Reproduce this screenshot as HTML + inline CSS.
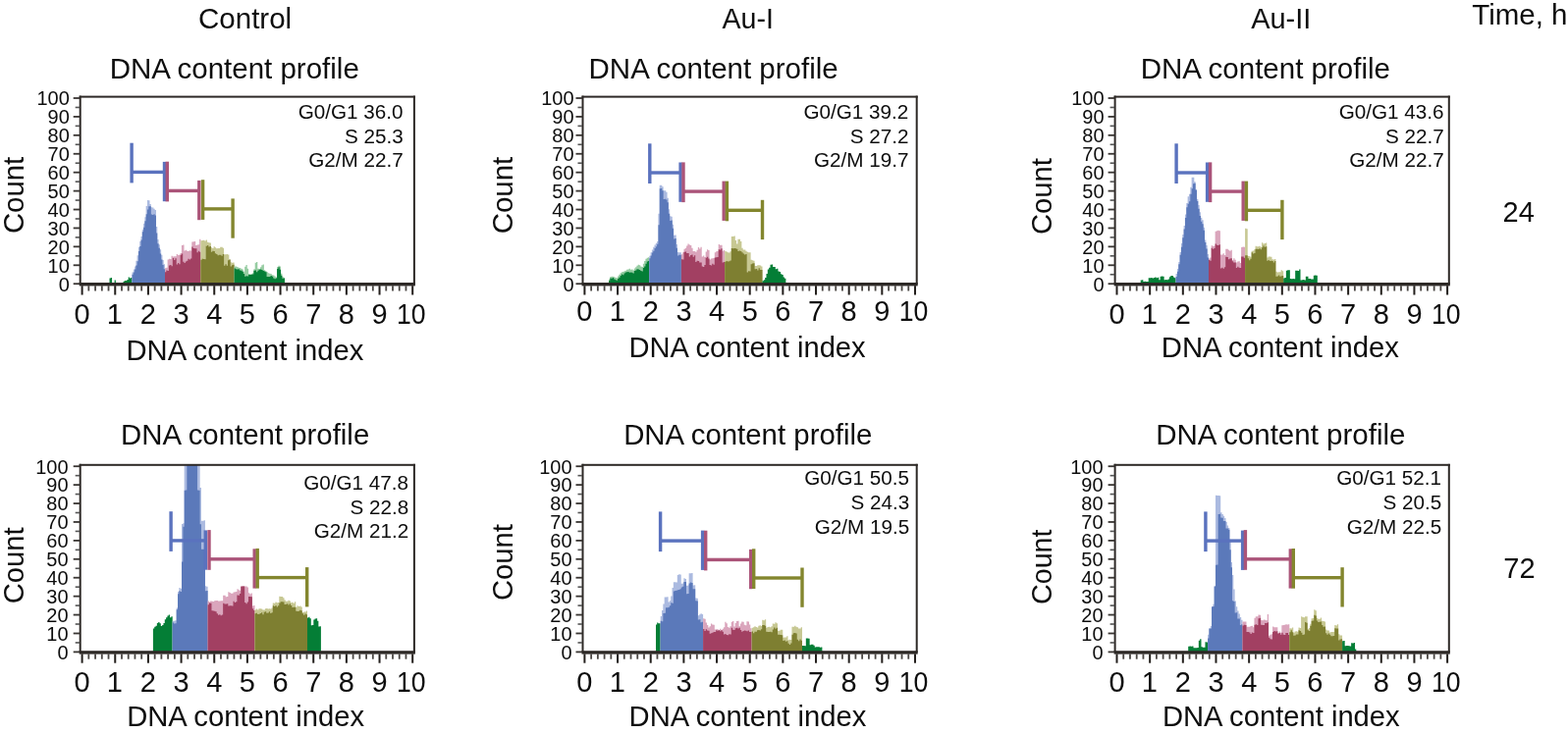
<!DOCTYPE html>
<html><head><meta charset="utf-8"><title>DNA content profile</title>
<style>html,body{margin:0;padding:0;background:#fff;}svg{display:block;}</style></head>
<body>
<svg width="1597" height="748" viewBox="0 0 1597 748">
<rect width="1597" height="748" fill="#fff"/>
<path d="M111.50,289.50L111.50,283.42L112.78,283.42L112.78,283.01L114.06,283.01L114.06,288.55L115.33,288.55L115.33,288.47L116.61,288.47L116.61,285.41L117.89,285.41L117.89,288.45L119.17,288.45L119.17,288.51L120.44,288.51L120.44,288.44L121.72,288.44L121.72,288.44L123.00,288.44L123.00,288.49L124.28,288.49L124.28,288.51L125.56,288.51L125.56,286.74L126.83,286.74L126.83,286.03L128.11,286.03L128.11,285.92L129.39,285.92L129.39,284.88L130.67,284.88L130.67,282.56L131.94,282.56L131.94,283.52L133.22,283.52L133.22,282.90L134.50,282.90L134.50,289.50Z" fill="#047e36"/>
<path d="M134.50,289.50L134.50,277.43L135.79,277.43L135.79,274.43L137.08,274.43L137.08,271.62L138.37,271.62L138.37,265.78L139.65,265.78L139.65,260.29L140.94,260.29L140.94,252.00L142.23,252.00L142.23,245.88L143.52,245.88L143.52,241.10L144.81,241.10L144.81,234.03L146.10,234.03L146.10,227.71L147.38,227.71L147.38,221.33L148.67,221.33L148.67,210.05L149.96,210.05L149.96,204.11L151.25,204.11L151.25,204.13L152.54,204.13L152.54,207.94L153.83,207.94L153.83,211.15L155.12,211.15L155.12,211.53L156.40,211.53L156.40,212.84L157.69,212.84L157.69,213.98L158.98,213.98L158.98,231.07L160.27,231.07L160.27,244.01L161.56,244.01L161.56,249.17L162.85,249.17L162.85,254.28L164.13,254.28L164.13,259.77L165.42,259.77L165.42,264.94L166.71,264.94L166.71,269.31L168.00,269.31L168.00,289.50Z" fill="#abbae0"/>
<path d="M134.50,289.50L134.50,279.72L135.79,279.72L135.79,277.44L137.08,277.44L137.08,274.52L138.37,274.52L138.37,270.43L139.65,270.43L139.65,266.15L140.94,266.15L140.94,256.02L142.23,256.02L142.23,250.89L143.52,250.89L143.52,244.47L144.81,244.47L144.81,236.25L146.10,236.25L146.10,231.78L147.38,231.78L147.38,225.24L148.67,225.24L148.67,218.14L149.96,218.14L149.96,213.48L151.25,213.48L151.25,210.25L152.54,210.25L152.54,210.16L153.83,210.16L153.83,218.52L155.12,218.52L155.12,218.92L156.40,218.92L156.40,218.35L157.69,218.35L157.69,219.48L158.98,219.48L158.98,237.58L160.27,237.58L160.27,248.35L161.56,248.35L161.56,252.79L162.85,252.79L162.85,258.40L164.13,258.40L164.13,264.62L165.42,264.62L165.42,269.90L166.71,269.90L166.71,274.27L168.00,274.27L168.00,289.50Z" fill="#5b79ba"/>
<path d="M168.00,289.50L168.00,273.13L169.30,273.13L169.30,272.87L170.60,272.87L170.60,264.40L171.90,264.40L171.90,263.79L173.20,263.79L173.20,264.12L174.50,264.12L174.50,260.70L175.80,260.70L175.80,261.40L177.10,261.40L177.10,261.28L178.40,261.28L178.40,261.18L179.70,261.18L179.70,259.06L181.00,259.06L181.00,259.99L182.30,259.99L182.30,259.67L183.60,259.67L183.60,257.96L184.90,257.96L184.90,250.09L186.20,250.09L186.20,249.58L187.50,249.58L187.50,255.55L188.80,255.55L188.80,254.72L190.10,254.72L190.10,255.71L191.40,255.71L191.40,255.98L192.70,255.98L192.70,255.37L194.00,255.37L194.00,255.56L195.30,255.56L195.30,246.62L196.60,246.62L196.60,246.37L197.90,246.37L197.90,246.08L199.20,246.08L199.20,249.96L200.50,249.96L200.50,249.61L201.80,249.61L201.80,249.23L203.10,249.23L203.10,243.69L204.40,243.69L204.40,289.50Z" fill="#daa5bc"/>
<path d="M168.00,289.50L168.00,277.13L169.30,277.13L169.30,275.45L170.60,275.45L170.60,276.08L171.90,276.08L171.90,270.61L173.20,270.61L173.20,270.08L174.50,270.08L174.50,271.28L175.80,271.28L175.80,262.99L177.10,262.99L177.10,265.12L178.40,265.12L178.40,263.19L179.70,263.19L179.70,269.39L181.00,269.39L181.00,268.11L182.30,268.11L182.30,269.29L183.60,269.29L183.60,259.66L184.90,259.66L184.90,258.43L186.20,258.43L186.20,266.77L187.50,266.77L187.50,268.09L188.80,268.09L188.80,266.38L190.10,266.38L190.10,265.87L191.40,265.87L191.40,263.75L192.70,263.75L192.70,264.43L194.00,264.43L194.00,263.40L195.30,263.40L195.30,251.46L196.60,251.46L196.60,252.96L197.90,252.96L197.90,253.27L199.20,253.27L199.20,253.28L200.50,253.28L200.50,257.25L201.80,257.25L201.80,255.80L203.10,255.80L203.10,256.76L204.40,256.76L204.40,289.50Z" fill="#a24062"/>
<path d="M204.40,289.50L204.40,245.23L205.72,245.23L205.72,245.04L207.03,245.04L207.03,244.67L208.35,244.67L208.35,245.58L209.66,245.58L209.66,244.42L210.98,244.42L210.98,246.66L212.29,246.66L212.29,247.28L213.61,247.28L213.61,247.52L214.92,247.52L214.92,252.14L216.24,252.14L216.24,252.95L217.55,252.95L217.55,251.34L218.87,251.34L218.87,252.17L220.18,252.17L220.18,253.24L221.50,253.24L221.50,252.96L222.82,252.96L222.82,252.97L224.13,252.97L224.13,251.68L225.45,251.68L225.45,251.78L226.76,251.78L226.76,252.76L228.08,252.76L228.08,259.33L229.39,259.33L229.39,259.25L230.71,259.25L230.71,258.98L232.02,258.98L232.02,259.38L233.34,259.38L233.34,264.57L234.65,264.57L234.65,267.19L235.97,267.19L235.97,267.73L237.28,267.73L237.28,267.53L238.60,267.53L238.60,289.50Z" fill="#c7c893"/>
<path d="M204.40,289.50L204.40,264.72L205.72,264.72L205.72,263.82L207.03,263.82L207.03,264.04L208.35,264.04L208.35,264.31L209.66,264.31L209.66,250.69L210.98,250.69L210.98,249.88L212.29,249.88L212.29,251.45L213.61,251.45L213.61,250.88L214.92,250.88L214.92,256.87L216.24,256.87L216.24,255.74L217.55,255.74L217.55,255.93L218.87,255.93L218.87,258.32L220.18,258.32L220.18,258.94L221.50,258.94L221.50,260.35L222.82,260.35L222.82,259.85L224.13,259.85L224.13,259.74L225.45,259.74L225.45,260.64L226.76,260.64L226.76,259.08L228.08,259.08L228.08,270.68L229.39,270.68L229.39,269.26L230.71,269.26L230.71,270.76L232.02,270.76L232.02,265.32L233.34,265.32L233.34,264.57L234.65,264.57L234.65,271.50L235.97,271.50L235.97,270.37L237.28,270.37L237.28,269.84L238.60,269.84L238.60,289.50Z" fill="#7e7f31"/>
<path d="M238.60,289.50L238.60,271.53L239.92,271.53L239.92,271.46L241.24,271.46L241.24,272.02L242.55,272.02L242.55,272.84L243.87,272.84L243.87,273.10L245.19,273.10L245.19,273.68L246.51,273.68L246.51,274.55L247.83,274.55L247.83,276.80L249.14,276.80L249.14,271.84L250.46,271.84L250.46,269.98L251.78,269.98L251.78,273.68L253.10,273.68L253.10,279.09L254.42,279.09L254.42,279.57L255.73,279.57L255.73,279.28L257.05,279.28L257.05,278.28L258.37,278.28L258.37,274.17L259.69,274.17L259.69,267.69L261.01,267.69L261.01,266.88L262.32,266.88L262.32,273.73L263.64,273.73L263.64,274.09L264.96,274.09L264.96,272.32L266.28,272.32L266.28,270.35L267.59,270.35L267.59,269.61L268.91,269.61L268.91,275.37L270.23,275.37L270.23,276.23L271.55,276.23L271.55,277.27L272.87,277.27L272.87,278.13L274.18,278.13L274.18,278.63L275.50,278.63L275.50,279.12L276.82,279.12L276.82,280.27L278.14,280.27L278.14,280.56L279.46,280.56L279.46,281.51L280.77,281.51L280.77,282.50L282.09,282.50L282.09,272.06L283.41,272.06L283.41,270.63L284.73,270.63L284.73,271.59L286.05,271.59L286.05,278.77L287.36,278.77L287.36,281.95L288.68,281.95L288.68,283.15L290.00,283.15L290.00,289.50Z" fill="#96cca2"/>
<path d="M238.60,289.50L238.60,273.58L239.92,273.58L239.92,274.22L241.24,274.22L241.24,274.41L242.55,274.41L242.55,274.36L243.87,274.36L243.87,275.61L245.19,275.61L245.19,275.67L246.51,275.67L246.51,276.74L247.83,276.74L247.83,278.88L249.14,278.88L249.14,281.78L250.46,281.78L250.46,281.28L251.78,281.28L251.78,281.62L253.10,281.62L253.10,279.96L254.42,279.96L254.42,280.06L255.73,280.06L255.73,279.75L257.05,279.75L257.05,279.50L258.37,279.50L258.37,275.65L259.69,275.65L259.69,275.51L261.01,275.51L261.01,277.30L262.32,277.30L262.32,275.75L263.64,275.75L263.64,274.79L264.96,274.79L264.96,274.44L266.28,274.44L266.28,275.00L267.59,275.00L267.59,275.97L268.91,275.97L268.91,276.49L270.23,276.49L270.23,277.30L271.55,277.30L271.55,282.06L272.87,282.06L272.87,281.94L274.18,281.94L274.18,281.98L275.50,281.98L275.50,280.94L276.82,280.94L276.82,281.87L278.14,281.87L278.14,283.61L279.46,283.61L279.46,284.15L280.77,284.15L280.77,283.55L282.09,283.55L282.09,274.06L283.41,274.06L283.41,272.20L284.73,272.20L284.73,274.66L286.05,274.66L286.05,280.73L287.36,280.73L287.36,283.72L288.68,283.72L288.68,283.41L290.00,283.41L290.00,289.50Z" fill="#047e36"/>
<rect x="132.40" y="145.70" width="3.4" height="40.7" fill="#5a72be"/>
<rect x="165.80" y="164.90" width="3.4" height="40.3" fill="#5a72be"/>
<rect x="134.10" y="173.70" width="33.40" height="3.4" fill="#5a72be"/>
<rect x="168.60" y="164.70" width="3.4" height="40.7" fill="#ab5479"/>
<rect x="201.10" y="183.90" width="3.4" height="40.3" fill="#ab5479"/>
<rect x="170.30" y="192.70" width="32.50" height="3.4" fill="#ab5479"/>
<rect x="204.90" y="183.20" width="3.4" height="40.7" fill="#83862e"/>
<rect x="235.40" y="202.40" width="3.4" height="40.3" fill="#83862e"/>
<rect x="206.60" y="211.20" width="30.50" height="3.4" fill="#83862e"/>
<path d="M620.00,289.50L620.00,284.38L621.29,284.38L621.29,281.89L622.58,281.89L622.58,281.75L623.87,281.75L623.87,281.85L625.16,281.85L625.16,282.27L626.45,282.27L626.45,283.11L627.74,283.11L627.74,283.36L629.03,283.36L629.03,281.54L630.32,281.54L630.33,279.83L631.62,279.83L631.62,278.25L632.91,278.25L632.91,277.35L634.20,277.35L634.20,276.89L635.49,276.89L635.49,276.26L636.78,276.26L636.78,275.71L638.07,275.71L638.07,274.72L639.36,274.72L639.36,274.49L640.65,274.49L640.65,273.85L641.94,273.85L641.94,274.77L643.23,274.77L643.23,274.51L644.52,274.51L644.52,275.42L645.81,275.42L645.81,273.52L647.10,273.52L647.10,272.36L648.39,272.36L648.39,270.68L649.68,270.68L649.68,269.77L650.97,269.77L650.97,270.34L652.27,270.34L652.27,271.50L653.56,271.50L653.56,271.94L654.85,271.94L654.85,268.85L656.14,268.85L656.14,265.90L657.43,265.90L657.43,263.79L658.72,263.79L658.72,262.74L660.01,262.74L660.01,262.20L661.30,262.20L661.30,289.50Z" fill="#96cca2"/>
<path d="M620.00,289.50L620.00,286.12L621.29,286.12L621.29,283.48L622.58,283.48L622.58,283.68L623.87,283.68L623.87,283.11L625.16,283.11L625.16,284.56L626.45,284.56L626.45,285.33L627.74,285.33L627.74,285.83L629.03,285.83L629.03,283.97L630.32,283.97L630.33,282.65L631.62,282.65L631.62,280.89L632.91,280.89L632.91,279.49L634.20,279.49L634.20,280.24L635.49,280.24L635.49,278.42L636.78,278.42L636.78,277.56L638.07,277.56L638.07,277.36L639.36,277.36L639.36,276.90L640.65,276.90L640.65,277.66L641.94,277.66L641.94,277.52L643.23,277.52L643.23,277.84L644.52,277.84L644.52,278.42L645.81,278.42L645.81,276.09L647.10,276.09L647.10,275.41L648.39,275.41L648.39,274.19L649.68,274.19L649.68,274.53L650.97,274.53L650.97,275.10L652.27,275.10L652.27,276.08L653.56,276.08L653.56,276.58L654.85,276.58L654.85,273.09L656.14,273.09L656.14,271.38L657.43,271.38L657.43,268.77L658.72,268.77L658.72,266.60L660.01,266.60L660.01,266.05L661.30,266.05L661.30,289.50Z" fill="#047e36"/>
<path d="M661.30,289.50L661.30,260.83L662.60,260.83L662.60,257.17L663.91,257.17L663.91,254.57L665.21,254.57L665.21,251.68L666.52,251.68L666.52,249.56L667.82,249.56L667.82,247.76L669.12,247.76L669.12,246.10L670.43,246.10L670.43,217.73L671.73,217.73L671.73,188.75L673.04,188.75L673.04,188.75L674.34,188.75L674.34,190.37L675.64,190.37L675.64,194.23L676.95,194.23L676.95,194.29L678.25,194.29L678.25,195.81L679.56,195.81L679.56,201.77L680.86,201.77L680.86,213.18L682.16,213.18L682.16,220.17L683.47,220.17L683.47,220.70L684.77,220.70L684.77,228.87L686.08,228.87L686.08,239.82L687.38,239.82L687.38,239.61L688.68,239.61L688.68,249.00L689.99,249.00L689.99,256.91L691.29,256.91L691.29,257.35L692.60,257.35L692.60,257.27L693.90,257.27L693.90,289.50Z" fill="#abbae0"/>
<path d="M661.30,289.50L661.30,263.19L662.60,263.19L662.60,260.42L663.91,260.42L663.91,257.60L665.21,257.60L665.21,255.82L666.52,255.82L666.52,252.97L667.82,252.97L667.82,251.25L669.12,251.25L669.12,248.64L670.43,248.64L670.43,229.23L671.73,229.23L671.73,192.14L673.04,192.14L673.04,191.97L674.34,191.97L674.34,194.17L675.64,194.17L675.64,203.12L676.95,203.12L676.95,202.82L678.25,202.82L678.25,203.39L679.56,203.39L679.56,206.34L680.86,206.34L680.86,217.81L682.16,217.81L682.16,224.96L683.47,224.96L683.47,224.54L684.77,224.54L684.77,232.71L686.08,232.71L686.08,243.57L687.38,243.57L687.38,243.01L688.68,243.01L688.68,252.87L689.99,252.87L689.99,260.52L691.29,260.52L691.29,259.72L692.60,259.72L692.60,259.79L693.90,259.79L693.90,289.50Z" fill="#5b79ba"/>
<path d="M693.90,289.50L693.90,259.17L695.20,259.17L695.20,257.36L696.51,257.36L696.51,253.63L697.81,253.63L697.81,252.70L699.11,252.70L699.11,250.61L700.41,250.61L700.41,248.56L701.72,248.56L701.72,249.44L703.02,249.44L703.02,249.96L704.32,249.96L704.32,252.87L705.63,252.87L705.63,256.01L706.93,256.01L706.93,256.05L708.23,256.05L708.23,256.74L709.54,256.74L709.54,254.74L710.84,254.74L710.84,251.96L712.14,251.96L712.14,253.42L713.44,253.42L713.44,251.86L714.75,251.86L714.75,261.58L716.05,261.58L716.05,260.54L717.35,260.54L717.35,261.94L718.66,261.94L718.66,256.40L719.96,256.40L719.96,254.28L721.26,254.28L721.26,255.07L722.56,255.07L722.56,264.61L723.87,264.61L723.87,263.47L725.17,263.47L725.17,263.35L726.47,263.35L726.47,263.12L727.78,263.12L727.78,257.18L729.08,257.18L729.08,256.34L730.38,256.34L730.38,256.02L731.69,256.02L731.69,249.01L732.99,249.01L732.99,249.76L734.29,249.76L734.29,249.74L735.59,249.74L735.59,255.75L736.90,255.75L736.90,255.00L738.20,255.00L738.20,289.50Z" fill="#daa5bc"/>
<path d="M693.90,289.50L693.90,264.35L695.20,264.35L695.20,264.57L696.51,264.57L696.51,256.75L697.81,256.75L697.81,256.60L699.11,256.60L699.11,258.01L700.41,258.01L700.41,258.08L701.72,258.08L701.72,261.54L703.02,261.54L703.02,259.96L704.32,259.96L704.32,259.49L705.63,259.49L705.63,261.64L706.93,261.64L706.93,260.34L708.23,260.34L708.23,266.91L709.54,266.91L709.54,265.64L710.84,265.64L710.84,265.94L712.14,265.94L712.14,267.52L713.44,267.52L713.44,267.55L714.75,267.55L714.75,271.50L716.05,271.50L716.05,271.92L717.35,271.92L717.35,269.93L718.66,269.93L718.66,262.71L719.96,262.71L719.96,261.86L721.26,261.86L721.26,263.41L722.56,263.41L722.56,269.98L723.87,269.98L723.87,270.59L725.17,270.59L725.17,268.85L726.47,268.85L726.47,269.65L727.78,269.65L727.78,262.62L729.08,262.62L729.08,262.27L730.38,262.27L730.38,261.97L731.69,261.97L731.69,254.23L732.99,254.23L732.99,254.44L734.29,254.44L734.29,253.16L735.59,253.16L735.59,267.46L736.90,267.46L736.90,266.94L738.20,266.94L738.20,289.50Z" fill="#a24062"/>
<path d="M738.20,289.50L738.20,256.11L739.52,256.11L739.52,256.54L740.84,256.54L740.84,257.14L742.16,257.14L742.16,257.44L743.48,257.44L743.48,256.14L744.80,256.14L744.80,240.99L746.12,240.99L746.12,240.97L747.44,240.97L747.44,240.57L748.77,240.57L748.77,244.99L750.09,244.99L750.09,248.54L751.41,248.54L751.41,243.68L752.73,243.68L752.73,243.66L754.05,243.66L754.05,246.03L755.37,246.03L755.37,252.87L756.69,252.87L756.69,254.42L758.01,254.42L758.01,254.61L759.33,254.61L759.33,255.72L760.65,255.72L760.65,256.74L761.97,256.74L761.97,257.13L763.29,257.13L763.29,257.27L764.61,257.27L764.61,264.72L765.93,264.72L765.93,265.19L767.26,265.19L767.26,265.81L768.58,265.81L768.58,270.94L769.90,270.94L769.90,271.09L771.22,271.09L771.22,270.36L772.54,270.36L772.54,270.30L773.86,270.30L773.86,270.54L775.18,270.54L775.18,271.62L776.50,271.62L776.50,289.50Z" fill="#c7c893"/>
<path d="M738.20,289.50L738.20,266.74L739.52,266.74L739.52,265.91L740.84,265.91L740.84,266.54L742.16,266.54L742.16,266.26L743.48,266.26L743.48,265.54L744.80,265.54L744.80,252.94L746.12,252.94L746.12,253.33L747.44,253.33L747.44,252.99L748.77,252.99L748.77,253.31L750.09,253.31L750.09,253.69L751.41,253.69L751.41,255.88L752.73,255.88L752.73,255.42L754.05,255.42L754.05,256.05L755.37,256.05L755.37,257.37L756.69,257.37L756.69,258.52L758.01,258.52L758.01,259.43L759.33,259.43L759.33,259.09L760.65,259.09L760.65,277.60L761.97,277.60L761.97,276.33L763.29,276.33L763.29,276.44L764.61,276.44L764.61,269.16L765.93,269.16L765.93,268.47L767.26,268.47L767.26,268.16L768.58,268.16L768.58,274.24L769.90,274.24L769.90,273.94L771.22,273.94L771.22,275.50L772.54,275.50L772.54,273.28L773.86,273.28L773.86,275.01L775.18,275.01L775.18,275.03L776.50,275.03L776.50,289.50Z" fill="#7e7f31"/>
<path d="M776.50,289.50L776.50,286.23L777.83,286.23L777.83,285.37L779.16,285.37L779.16,283.06L780.48,283.06L780.48,278.90L781.81,278.90L781.81,274.60L783.14,274.60L783.14,272.75L784.47,272.75L784.47,269.84L785.79,269.84L785.79,269.47L787.12,269.47L787.12,271.89L788.45,271.89L788.45,272.10L789.78,272.10L789.78,274.33L791.11,274.33L791.11,273.83L792.43,273.83L792.43,276.39L793.76,276.39L793.76,277.05L795.09,277.05L795.09,279.32L796.42,279.32L796.42,279.90L797.74,279.90L797.74,282.50L799.07,282.50L799.07,283.71L800.40,283.71L800.40,289.50Z" fill="#047e36"/>
<rect x="660.10" y="146.30" width="3.4" height="40.7" fill="#5a72be"/>
<rect x="691.40" y="165.50" width="3.4" height="40.3" fill="#5a72be"/>
<rect x="661.80" y="174.30" width="31.30" height="3.4" fill="#5a72be"/>
<rect x="694.30" y="165.40" width="3.4" height="40.7" fill="#ab5479"/>
<rect x="735.50" y="184.60" width="3.4" height="40.3" fill="#ab5479"/>
<rect x="696.00" y="193.40" width="41.20" height="3.4" fill="#ab5479"/>
<rect x="738.70" y="184.60" width="3.4" height="40.7" fill="#83862e"/>
<rect x="774.80" y="203.80" width="3.4" height="40.3" fill="#83862e"/>
<rect x="740.40" y="212.60" width="36.10" height="3.4" fill="#83862e"/>
<path d="M1161.70,289.50L1161.70,285.46L1163.03,285.46L1163.03,285.21L1164.36,285.21L1164.36,286.95L1165.69,286.95L1165.69,286.86L1167.02,286.86L1167.02,286.93L1168.35,286.93L1168.35,286.94L1169.68,286.94L1169.68,283.17L1171.01,283.17L1171.01,283.14L1172.34,283.14L1172.34,283.03L1173.67,283.03L1173.67,283.38L1175.00,283.38L1175.00,282.90L1176.33,282.90L1176.33,282.61L1177.66,282.61L1177.66,283.20L1178.99,283.20L1178.99,282.85L1180.31,282.85L1180.31,285.29L1181.64,285.29L1181.64,281.86L1182.97,281.86L1182.97,281.39L1184.30,281.39L1184.30,281.80L1185.63,281.80L1185.63,285.34L1186.96,285.34L1186.96,284.98L1188.29,284.98L1188.29,285.24L1189.62,285.24L1189.62,284.39L1190.95,284.39L1190.95,282.30L1192.28,282.30L1192.28,280.93L1193.61,280.93L1193.61,281.10L1194.94,281.10L1194.94,282.59L1196.27,282.59L1196.27,283.32L1197.60,283.32L1197.60,289.50Z" fill="#047e36"/>
<path d="M1197.60,289.50L1197.60,279.10L1198.94,279.10L1198.94,273.94L1200.27,273.94L1200.27,267.02L1201.61,267.02L1201.61,257.08L1202.94,257.08L1202.94,247.94L1204.28,247.94L1204.28,239.11L1205.62,239.11L1205.62,230.07L1206.95,230.07L1206.95,218.46L1208.29,218.46L1208.29,206.93L1209.62,206.93L1209.62,200.34L1210.96,200.34L1210.96,197.83L1212.30,197.83L1212.30,190.63L1213.63,190.63L1213.63,180.83L1214.97,180.83L1214.97,180.68L1216.30,180.68L1216.30,185.13L1217.64,185.13L1217.64,193.48L1218.98,193.48L1218.98,203.09L1220.31,203.09L1220.31,209.05L1221.65,209.05L1221.65,216.25L1222.98,216.25L1222.98,221.93L1224.32,221.93L1224.32,224.26L1225.66,224.26L1225.66,231.73L1226.99,231.73L1226.99,244.38L1228.33,244.38L1228.33,249.96L1229.66,249.96L1229.66,259.07L1231.00,259.07L1231.00,289.50Z" fill="#abbae0"/>
<path d="M1197.60,289.50L1197.60,281.90L1198.94,281.90L1198.94,276.86L1200.27,276.86L1200.27,269.33L1201.61,269.33L1201.61,259.73L1202.94,259.73L1202.94,251.72L1204.28,251.72L1204.28,242.18L1205.62,242.18L1205.62,233.45L1206.95,233.45L1206.95,221.96L1208.29,221.96L1208.29,211.24L1209.62,211.24L1209.62,207.85L1210.96,207.85L1210.96,205.37L1212.30,205.37L1212.30,197.66L1213.63,197.66L1213.63,192.37L1214.97,192.37L1214.97,187.16L1216.30,187.16L1216.30,186.87L1217.64,186.87L1217.64,193.51L1218.98,193.51L1218.98,204.92L1220.31,204.92L1220.31,212.87L1221.65,212.87L1221.65,220.00L1222.98,220.00L1222.98,225.78L1224.32,225.78L1224.32,228.14L1225.66,228.14L1225.66,234.79L1226.99,234.79L1226.99,247.05L1228.33,247.05L1228.33,253.56L1229.66,253.56L1229.66,262.52L1231.00,262.52L1231.00,289.50Z" fill="#5b79ba"/>
<path d="M1231.00,289.50L1231.00,263.52L1232.33,263.52L1232.33,262.59L1233.65,262.59L1233.65,250.26L1234.98,250.26L1234.97,250.76L1236.30,250.76L1236.30,250.75L1237.62,250.75L1237.62,235.82L1238.95,235.82L1238.95,235.17L1240.28,235.17L1240.28,234.68L1241.60,234.68L1241.60,235.23L1242.92,235.23L1242.92,259.56L1244.25,259.56L1244.25,259.42L1245.58,259.42L1245.58,258.29L1246.90,258.29L1246.90,259.96L1248.22,259.96L1248.22,253.77L1249.55,253.77L1249.55,253.63L1250.88,253.63L1250.88,254.80L1252.20,254.80L1252.20,255.74L1253.53,255.74L1253.52,254.87L1254.85,254.87L1254.85,264.95L1256.17,264.95L1256.17,263.21L1257.50,263.21L1257.50,264.64L1258.83,264.64L1258.83,267.43L1260.15,267.43L1260.15,266.54L1261.47,266.54L1261.47,266.32L1262.80,266.32L1262.80,268.00L1264.12,268.00L1264.12,251.95L1265.45,251.95L1265.45,251.47L1266.77,251.47L1266.77,251.64L1268.10,251.64L1268.10,289.50Z" fill="#daa5bc"/>
<path d="M1231.00,289.50L1231.00,265.11L1232.33,265.11L1232.33,265.67L1233.65,265.67L1233.65,252.63L1234.98,252.63L1234.97,253.71L1236.30,253.71L1236.30,253.08L1237.62,253.08L1237.62,248.61L1238.95,248.61L1238.95,249.86L1240.28,249.86L1240.28,250.10L1241.60,250.10L1241.60,249.18L1242.92,249.18L1242.92,273.55L1244.25,273.55L1244.25,272.75L1245.58,272.75L1245.58,273.86L1246.90,273.86L1246.90,272.13L1248.22,272.13L1248.22,261.75L1249.55,261.75L1249.55,261.95L1250.88,261.95L1250.88,264.22L1252.20,264.22L1252.20,263.50L1253.53,263.50L1253.52,263.30L1254.85,263.30L1254.85,266.37L1256.17,266.37L1256.17,267.53L1257.50,267.53L1257.50,267.45L1258.83,267.45L1258.83,272.99L1260.15,272.99L1260.15,271.72L1261.47,271.72L1261.47,272.81L1262.80,272.81L1262.80,273.02L1264.12,273.02L1264.12,261.45L1265.45,261.45L1265.45,261.46L1266.77,261.46L1266.77,262.67L1268.10,262.67L1268.10,289.50Z" fill="#a24062"/>
<path d="M1268.10,289.50L1268.10,232.73L1269.40,232.73L1269.40,233.16L1270.71,233.16L1270.71,261.07L1272.01,261.07L1272.01,260.89L1273.31,260.89L1273.31,261.82L1274.62,261.82L1274.62,255.78L1275.92,255.78L1275.92,255.41L1277.22,255.41L1277.22,254.24L1278.53,254.24L1278.53,250.82L1279.83,250.82L1279.83,251.31L1281.13,251.31L1281.13,251.20L1282.44,251.20L1282.44,250.84L1283.74,250.84L1283.74,251.80L1285.04,251.80L1285.04,247.22L1286.35,247.22L1286.35,248.39L1287.65,248.39L1287.65,248.09L1288.95,248.09L1288.95,247.62L1290.26,247.62L1290.26,262.52L1291.56,262.52L1291.56,261.54L1292.86,261.54L1292.86,261.44L1294.17,261.44L1294.17,261.82L1295.47,261.82L1295.47,264.34L1296.77,264.34L1296.77,264.56L1298.08,264.56L1298.08,263.93L1299.38,263.93L1299.38,276.76L1300.68,276.76L1300.68,277.44L1301.99,277.44L1301.99,277.15L1303.29,277.15L1303.29,277.36L1304.59,277.36L1304.59,275.22L1305.90,275.22L1305.90,276.37L1307.20,276.37L1307.20,289.50Z" fill="#c7c893"/>
<path d="M1268.10,289.50L1268.10,260.17L1269.40,260.17L1269.40,260.21L1270.71,260.21L1270.71,263.23L1272.01,263.23L1272.01,265.18L1273.31,265.18L1273.31,263.67L1274.62,263.67L1274.62,257.22L1275.92,257.22L1275.92,258.61L1277.22,258.61L1277.22,257.94L1278.53,257.94L1278.53,253.70L1279.83,253.70L1279.83,253.74L1281.13,253.74L1281.13,253.92L1282.44,253.92L1282.44,253.18L1283.74,253.18L1283.74,254.23L1285.04,254.23L1285.04,252.24L1286.35,252.24L1286.35,250.56L1287.65,250.56L1287.65,251.77L1288.95,251.77L1288.95,251.26L1290.26,251.26L1290.26,265.70L1291.56,265.70L1291.56,265.07L1292.86,265.07L1292.86,266.02L1294.17,266.02L1294.17,265.82L1295.47,265.82L1295.47,265.96L1296.77,265.96L1296.77,267.60L1298.08,267.60L1298.08,266.05L1299.38,266.05L1299.38,281.65L1300.68,281.65L1300.68,281.58L1301.99,281.58L1301.99,280.42L1303.29,280.42L1303.29,281.85L1304.59,281.85L1304.59,281.30L1305.90,281.30L1305.90,280.90L1307.20,280.90L1307.20,289.50Z" fill="#7e7f31"/>
<path d="M1307.20,289.50L1307.20,283.52L1308.53,283.52L1308.53,283.02L1309.86,283.02L1309.86,275.76L1311.19,275.76L1311.19,275.28L1312.52,275.28L1312.52,275.21L1313.85,275.21L1313.85,283.94L1315.18,283.94L1315.18,284.37L1316.52,284.37L1316.52,283.88L1317.85,283.88L1317.85,284.13L1319.18,284.13L1319.18,275.87L1320.51,275.87L1320.51,275.84L1321.84,275.84L1321.84,275.99L1323.17,275.99L1323.17,274.49L1324.50,274.49L1324.50,285.49L1325.83,285.49L1325.83,285.18L1327.16,285.18L1327.16,284.96L1328.49,284.96L1328.49,285.48L1329.82,285.48L1329.82,281.82L1331.15,281.82L1331.15,281.85L1332.48,281.85L1332.48,284.07L1333.82,284.07L1333.82,283.96L1335.15,283.96L1335.15,284.58L1336.48,284.58L1336.48,284.39L1337.81,284.39L1337.81,280.77L1339.14,280.77L1339.14,280.46L1340.47,280.46L1340.47,280.86L1341.80,280.86L1341.80,289.50Z" fill="#047e36"/>
<rect x="1196.40" y="146.30" width="3.4" height="40.7" fill="#5a72be"/>
<rect x="1227.90" y="165.50" width="3.4" height="40.3" fill="#5a72be"/>
<rect x="1198.10" y="174.30" width="31.50" height="3.4" fill="#5a72be"/>
<rect x="1230.90" y="165.40" width="3.4" height="40.7" fill="#ab5479"/>
<rect x="1264.50" y="184.60" width="3.4" height="40.3" fill="#ab5479"/>
<rect x="1232.60" y="193.40" width="33.60" height="3.4" fill="#ab5479"/>
<rect x="1267.70" y="184.60" width="3.4" height="40.7" fill="#83862e"/>
<rect x="1304.20" y="203.80" width="3.4" height="40.3" fill="#83862e"/>
<rect x="1269.40" y="212.60" width="36.50" height="3.4" fill="#83862e"/>
<path d="M155.90,664.80L155.90,640.52L157.22,640.52L157.22,638.81L158.54,638.81L158.54,637.65L159.86,637.65L159.86,635.08L161.18,635.08L161.18,634.08L162.50,634.08L162.50,635.15L163.82,635.15L163.82,637.92L165.14,637.92L165.14,637.08L166.46,637.08L166.46,635.04L167.78,635.04L167.78,631.14L169.10,631.14L169.10,629.16L170.42,629.16L170.42,627.47L171.74,627.47L171.74,626.62L173.06,626.62L173.06,629.21L174.38,629.21L174.38,628.29L175.70,628.29L175.70,664.80Z" fill="#047e36"/>
<path d="M175.70,664.80L175.70,632.80L177.03,632.80L177.03,632.83L178.36,632.83L178.36,632.21L179.69,632.21L179.69,619.43L181.02,619.43L181.02,602.94L182.35,602.94L182.35,598.97L183.68,598.97L183.68,599.63L185.01,599.63L185.01,533.93L186.34,533.93L186.34,533.20L187.67,533.20L187.67,474.30L189.00,474.30L189.00,474.30L190.33,474.30L190.33,474.30L191.66,474.30L191.66,474.30L192.99,474.30L192.99,474.30L194.31,474.30L194.31,474.30L195.64,474.30L195.64,474.30L196.97,474.30L196.97,474.30L198.30,474.30L198.30,474.30L199.63,474.30L199.63,474.30L200.96,474.30L200.96,474.30L202.29,474.30L202.29,474.30L203.62,474.30L203.62,496.94L204.95,496.94L204.95,530.64L206.28,530.64L206.28,530.84L207.61,530.84L207.61,530.33L208.94,530.33L208.94,597.25L210.27,597.25L210.27,597.66L211.60,597.66L211.60,664.80Z" fill="#abbae0"/>
<path d="M175.70,664.80L175.70,634.53L177.03,634.53L177.03,635.43L178.36,635.43L178.36,635.24L179.69,635.24L179.69,621.21L181.02,621.21L181.02,605.36L182.35,605.36L182.35,602.37L183.68,602.37L183.68,603.05L185.01,603.05L185.01,572.43L186.34,572.43L186.34,536.83L187.67,536.83L187.67,499.86L189.00,499.86L189.00,499.48L190.33,499.48L190.33,474.30L191.66,474.30L191.66,474.30L192.99,474.30L192.99,474.30L194.31,474.30L194.31,474.30L195.64,474.30L195.64,474.30L196.97,474.30L196.97,474.30L198.30,474.30L198.30,474.30L199.63,474.30L199.63,474.30L200.96,474.30L200.96,499.60L202.29,499.60L202.29,499.83L203.62,499.83L203.62,534.21L204.95,534.21L204.95,559.79L206.28,559.79L206.28,559.77L207.61,559.77L207.61,559.85L208.94,559.85L208.94,602.32L210.27,602.32L210.27,602.01L211.60,602.01L211.60,664.80Z" fill="#5b79ba"/>
<path d="M211.60,664.80L211.60,612.56L212.89,612.56L212.89,613.56L214.19,613.56L214.19,612.59L215.48,612.59L215.48,612.71L216.78,612.71L216.78,612.99L218.07,612.99L218.07,612.15L219.37,612.15L219.37,612.06L220.66,612.06L220.66,611.91L221.96,611.91L221.96,612.49L223.25,612.49L223.25,612.46L224.55,612.46L224.55,612.15L225.84,612.15L225.84,612.34L227.14,612.34L227.14,606.77L228.43,606.77L228.43,606.78L229.72,606.78L229.72,608.19L231.02,608.19L231.02,608.11L232.31,608.11L232.31,603.21L233.61,603.21L233.61,603.91L234.90,603.91L234.90,604.84L236.20,604.84L236.20,604.84L237.49,604.84L237.49,603.41L238.79,603.41L238.79,603.19L240.08,603.19L240.08,603.00L241.38,603.00L241.38,600.29L242.67,600.29L242.67,601.29L243.96,601.29L243.96,601.63L245.26,601.63L245.26,597.26L246.55,597.26L246.55,597.24L247.85,597.24L247.85,597.36L249.14,597.36L249.14,597.44L250.44,597.44L250.44,597.42L251.73,597.42L251.73,598.56L253.03,598.56L253.03,604.37L254.32,604.37L254.32,605.53L255.62,605.53L255.62,604.52L256.91,604.52L256.91,617.58L258.21,617.58L258.21,617.04L259.50,617.04L259.50,664.80Z" fill="#daa5bc"/>
<path d="M211.60,664.80L211.60,616.23L212.89,616.23L212.89,614.53L214.19,614.53L214.19,614.67L215.48,614.67L215.48,622.13L216.78,622.13L216.78,622.58L218.07,622.58L218.07,622.80L219.37,622.80L219.37,623.29L220.66,623.29L220.66,625.27L221.96,625.27L221.96,626.77L223.25,626.77L223.25,626.35L224.55,626.35L224.55,627.17L225.84,627.17L225.84,626.38L227.14,626.38L227.14,614.71L228.43,614.71L228.43,615.59L229.72,615.59L229.72,615.54L231.02,615.54L231.02,615.33L232.31,615.33L232.31,617.59L233.61,617.59L233.61,617.22L234.90,617.22L234.90,617.26L236.20,617.26L236.20,617.57L237.49,617.57L237.49,612.87L238.79,612.87L238.79,613.95L240.08,613.95L240.08,613.23L241.38,613.23L241.38,606.61L242.67,606.61L242.67,606.83L243.96,606.83L243.96,604.93L245.26,604.93L245.26,597.68L246.55,597.68L246.55,597.60L247.85,597.60L247.85,597.40L249.14,597.40L249.14,613.99L250.44,613.99L250.44,615.22L251.73,615.22L251.73,613.58L253.03,613.58L253.03,607.92L254.32,607.92L254.32,608.11L255.62,608.11L255.62,608.13L256.91,608.13L256.91,620.30L258.21,620.30L258.21,622.00L259.50,622.00L259.50,664.80Z" fill="#a24062"/>
<path d="M259.50,664.80L259.50,621.44L260.80,621.44L260.80,620.45L262.11,620.45L262.11,621.54L263.41,621.54L263.41,620.35L264.72,620.35L264.72,620.23L266.02,620.23L266.02,620.49L267.33,620.49L267.33,621.55L268.63,621.55L268.63,621.47L269.94,621.47L269.94,620.19L271.24,620.19L271.24,619.93L272.55,619.93L272.55,620.58L273.85,620.58L273.85,620.28L275.16,620.28L275.16,620.40L276.46,620.40L276.46,619.56L277.77,619.56L277.77,614.40L279.07,614.40L279.07,614.70L280.38,614.70L280.38,613.47L281.68,613.47L281.68,614.35L282.99,614.35L282.99,613.95L284.29,613.95L284.29,607.78L285.60,607.78L285.60,608.06L286.90,608.06L286.90,607.92L288.21,607.92L288.21,609.15L289.51,609.15L289.51,611.43L290.82,611.43L290.82,612.71L292.12,612.71L292.12,612.65L293.43,612.65L293.43,611.68L294.73,611.68L294.73,612.46L296.04,612.46L296.04,614.21L297.34,614.21L297.34,613.64L298.65,613.64L298.65,614.87L299.95,614.87L299.95,613.36L301.26,613.36L301.26,618.77L302.56,618.77L302.56,617.24L303.87,617.24L303.87,618.07L305.17,618.07L305.17,617.42L306.48,617.42L306.48,618.42L307.78,618.42L307.78,623.97L309.09,623.97L309.09,623.47L310.39,623.47L310.39,623.45L311.70,623.45L311.70,622.48L313.00,622.48L313.00,664.80Z" fill="#c7c893"/>
<path d="M259.50,664.80L259.50,625.17L260.80,625.17L260.80,624.69L262.11,624.69L262.11,626.03L263.41,626.03L263.41,625.84L264.72,625.84L264.72,625.10L266.02,625.10L266.02,624.32L267.33,624.32L267.33,626.14L268.63,626.14L268.63,623.66L269.94,623.66L269.94,623.33L271.24,623.33L271.24,624.68L272.55,624.68L272.55,624.54L273.85,624.54L273.85,623.21L275.16,623.21L275.16,624.89L276.46,624.89L276.46,624.28L277.77,624.28L277.77,617.29L279.07,617.29L279.07,618.02L280.38,618.02L280.38,616.98L281.68,616.98L281.68,618.41L282.99,618.41L282.99,617.20L284.29,617.20L284.29,614.54L285.60,614.54L285.60,613.36L286.90,613.36L286.90,613.16L288.21,613.16L288.21,613.54L289.51,613.54L289.51,616.12L290.82,616.12L290.82,615.66L292.12,615.66L292.12,615.23L293.43,615.23L293.43,616.52L294.73,616.52L294.73,615.21L296.04,615.21L296.04,616.90L297.34,616.90L297.34,618.94L298.65,618.94L298.65,618.85L299.95,618.85L299.95,618.82L301.26,618.82L301.26,622.85L302.56,622.85L302.56,622.99L303.87,622.99L303.87,622.68L305.17,622.68L305.17,621.72L306.48,621.72L306.48,622.34L307.78,622.34L307.78,625.30L309.09,625.30L309.09,626.78L310.39,626.78L310.39,625.42L311.70,625.42L311.70,626.21L313.00,626.21L313.00,664.80Z" fill="#7e7f31"/>
<path d="M313.00,664.80L313.00,629.55L314.26,629.55L314.26,628.86L315.53,628.86L315.53,630.26L316.79,630.26L316.79,637.35L318.05,637.35L318.05,637.09L319.32,637.09L319.32,631.40L320.58,631.40L320.58,630.41L321.85,630.41L321.85,630.37L323.11,630.37L323.11,632.78L324.37,632.78L324.37,638.49L325.64,638.49L325.64,638.34L326.90,638.34L326.90,664.80Z" fill="#047e36"/>
<rect x="172.40" y="521.20" width="3.4" height="40.7" fill="#5a72be"/>
<rect x="207.60" y="540.40" width="3.4" height="40.3" fill="#5a72be"/>
<rect x="174.10" y="549.20" width="35.20" height="3.4" fill="#5a72be"/>
<rect x="211.30" y="540.10" width="3.4" height="40.7" fill="#ab5479"/>
<rect x="257.50" y="559.30" width="3.4" height="40.3" fill="#ab5479"/>
<rect x="213.00" y="568.10" width="46.20" height="3.4" fill="#ab5479"/>
<rect x="260.50" y="558.90" width="3.4" height="40.7" fill="#83862e"/>
<rect x="311.00" y="578.10" width="3.4" height="40.3" fill="#83862e"/>
<rect x="262.20" y="586.90" width="50.50" height="3.4" fill="#83862e"/>
<path d="M668.00,664.80L668.00,636.39L669.17,636.39L669.17,634.52L670.35,634.52L670.35,635.33L671.53,635.33L671.53,635.37L672.70,635.37L672.70,664.80Z" fill="#047e36"/>
<path d="M672.70,664.80L672.70,628.01L674.02,628.01L674.02,622.09L675.33,622.09L675.33,615.45L676.65,615.45L676.65,608.60L677.96,608.60L677.96,608.39L679.28,608.39L679.28,608.31L680.59,608.31L680.59,613.42L681.91,613.42L681.91,612.25L683.22,612.25L683.22,607.61L684.54,607.61L684.54,598.90L685.85,598.90L685.85,593.37L687.17,593.37L687.17,593.27L688.48,593.27L688.48,593.41L689.80,593.41L689.80,585.95L691.11,585.95L691.11,585.22L692.43,585.22L692.43,585.55L693.74,585.55L693.74,594.79L695.06,594.79L695.06,594.43L696.37,594.43L696.37,589.25L697.69,589.25L697.69,589.96L699.00,589.96L699.00,596.77L700.32,596.77L700.32,596.42L701.63,596.42L701.63,584.26L702.95,584.26L702.95,584.29L704.26,584.29L704.26,584.10L705.58,584.10L705.58,596.56L706.89,596.56L706.89,596.21L708.21,596.21L708.21,609.57L709.52,609.57L709.52,609.78L710.84,609.78L710.84,627.36L712.15,627.36L712.15,626.36L713.47,626.36L713.47,625.33L714.78,625.33L714.78,625.96L716.10,625.96L716.10,664.80Z" fill="#abbae0"/>
<path d="M672.70,664.80L672.70,632.70L674.02,632.70L674.02,633.18L675.33,633.18L675.33,624.97L676.65,624.97L676.65,624.71L677.96,624.71L677.96,619.15L679.28,619.15L679.28,619.22L680.59,619.22L680.59,618.64L681.91,618.64L681.91,617.13L683.22,617.13L683.22,614.29L684.54,614.29L684.54,614.66L685.85,614.66L685.85,602.45L687.17,602.45L687.17,602.10L688.48,602.10L688.48,601.69L689.80,601.69L689.80,601.27L691.11,601.27L691.11,600.88L692.43,600.88L692.43,600.27L693.74,600.27L693.74,598.48L695.06,598.48L695.06,597.65L696.37,597.65L696.37,593.05L697.69,593.05L697.69,592.88L699.00,592.88L699.00,605.19L700.32,605.19L700.32,604.88L701.63,604.88L701.63,594.57L702.95,594.57L702.95,593.57L704.26,593.57L704.26,594.07L705.58,594.07L705.58,600.33L706.89,600.33L706.89,600.16L708.21,600.16L708.21,612.23L709.52,612.23L709.52,612.41L710.84,612.41L710.84,631.38L712.15,631.38L712.15,631.21L713.47,631.21L713.47,634.20L714.78,634.20L714.78,633.85L716.10,633.85L716.10,664.80Z" fill="#5b79ba"/>
<path d="M716.10,664.80L716.10,630.35L717.40,630.35L717.40,630.64L718.71,630.64L718.71,634.60L720.01,634.60L720.01,636.99L721.31,636.99L721.31,639.45L722.61,639.45L722.61,638.19L723.92,638.19L723.92,635.45L725.22,635.45L725.22,636.48L726.52,636.48L726.52,636.67L727.82,636.67L727.82,641.40L729.13,641.40L729.13,641.17L730.43,641.17L730.43,641.15L731.73,641.15L731.73,642.05L733.03,642.05L733.03,640.71L734.34,640.71L734.34,642.07L735.64,642.07L735.64,640.71L736.94,640.71L736.94,639.36L738.24,639.36L738.24,633.79L739.55,633.79L739.55,635.23L740.85,635.23L740.85,639.05L742.15,639.05L742.15,639.77L743.46,639.77L743.46,638.17L744.76,638.17L744.76,633.63L746.06,633.63L746.06,633.08L747.36,633.08L747.36,638.60L748.67,638.60L748.67,635.09L749.97,635.09L749.97,632.94L751.27,632.94L751.27,632.75L752.57,632.75L752.57,638.23L753.88,638.23L753.88,635.49L755.18,635.49L755.18,633.61L756.48,633.61L756.48,633.80L757.78,633.80L757.78,636.68L759.09,636.68L759.09,637.15L760.39,637.15L760.39,633.31L761.69,633.31L761.69,633.58L762.99,633.58L762.99,636.56L764.30,636.56L764.30,640.14L765.60,640.14L765.60,664.80Z" fill="#daa5bc"/>
<path d="M716.10,664.80L716.10,641.10L717.40,641.10L717.40,642.88L718.71,642.88L718.71,641.36L720.01,641.36L720.01,642.61L721.31,642.61L721.31,642.76L722.61,642.76L722.61,645.87L723.92,645.87L723.92,645.17L725.22,645.17L725.22,644.76L726.52,644.76L726.52,644.09L727.82,644.09L727.82,643.90L729.13,643.90L729.13,642.16L730.43,642.16L730.43,642.67L731.73,642.67L731.73,642.33L733.03,642.33L733.03,643.29L734.34,643.29L734.34,642.21L735.64,642.21L735.64,643.78L736.94,643.78L736.94,646.62L738.24,646.62L738.24,646.00L739.55,646.00L739.55,646.94L740.85,646.94L740.85,647.26L742.15,647.26L742.15,646.36L743.46,646.36L743.46,646.42L744.76,646.42L744.76,639.74L746.06,639.74L746.06,641.67L747.36,641.67L747.36,641.93L748.67,641.93L748.67,640.15L749.97,640.15L749.97,639.81L751.27,639.81L751.27,640.41L752.57,640.41L752.57,639.81L753.88,639.81L753.88,641.94L755.18,641.94L755.18,643.66L756.48,643.66L756.48,643.05L757.78,643.05L757.78,642.57L759.09,642.57L759.09,642.64L760.39,642.64L760.39,643.22L761.69,643.22L761.69,642.55L762.99,642.55L762.99,643.98L764.30,643.98L764.30,644.05L765.60,644.05L765.60,664.80Z" fill="#a24062"/>
<path d="M765.70,664.80L765.70,639.71L767.02,639.71L767.02,639.37L768.33,639.37L768.33,638.28L769.65,638.28L769.65,638.99L770.96,638.99L770.96,639.52L772.28,639.52L772.28,637.86L773.59,637.86L773.59,637.25L774.91,637.25L774.91,638.12L776.22,638.12L776.22,631.64L777.54,631.64L777.54,632.30L778.85,632.30L778.85,631.26L780.17,631.26L780.17,639.76L781.48,639.76L781.48,638.91L782.80,638.91L782.80,638.68L784.12,638.68L784.12,639.31L785.43,639.31L785.43,638.33L786.75,638.33L786.75,635.45L788.06,635.45L788.06,635.65L789.38,635.65L789.38,634.26L790.69,634.26L790.69,635.19L792.01,635.19L792.01,642.75L793.32,642.75L793.32,642.83L794.64,642.83L794.64,641.74L795.95,641.74L795.95,641.77L797.27,641.77L797.27,649.74L798.58,649.74L798.58,649.59L799.90,649.59L799.90,649.61L801.22,649.61L801.22,648.37L802.53,648.37L802.53,652.34L803.85,652.34L803.85,651.75L805.16,651.75L805.16,651.95L806.48,651.95L806.48,638.67L807.79,638.67L807.79,638.85L809.11,638.85L809.11,637.81L810.42,637.81L810.42,638.64L811.74,638.64L811.74,639.37L813.05,639.37L813.05,640.42L814.37,640.42L814.37,640.52L815.68,640.52L815.68,639.36L817.00,639.36L817.00,664.80Z" fill="#c7c893"/>
<path d="M765.70,664.80L765.70,643.50L767.02,643.50L767.02,645.37L768.33,645.37L768.33,643.65L769.65,643.65L769.65,643.84L770.96,643.84L770.96,642.19L772.28,642.19L772.28,642.09L773.59,642.09L773.59,642.50L774.91,642.50L774.91,641.24L776.22,641.24L776.22,636.94L777.54,636.94L777.54,636.89L778.85,636.89L778.85,637.85L780.17,637.85L780.17,643.86L781.48,643.86L781.48,644.08L782.80,644.08L782.80,644.06L784.12,644.06L784.12,643.65L785.43,643.65L785.43,644.31L786.75,644.31L786.75,641.38L788.06,641.38L788.06,639.61L789.38,639.61L789.38,640.73L790.69,640.73L790.69,639.67L792.01,639.67L792.01,646.81L793.32,646.81L793.32,646.82L794.64,646.82L794.64,646.91L795.95,646.91L795.95,647.33L797.27,647.33L797.27,652.92L798.58,652.92L798.58,652.40L799.90,652.40L799.90,653.73L801.22,653.73L801.22,653.24L802.53,653.24L802.53,655.79L803.85,655.79L803.85,656.96L805.16,656.96L805.16,655.57L806.48,655.57L806.48,646.74L807.79,646.74L807.79,645.26L809.11,645.26L809.11,644.92L810.42,644.92L810.42,645.46L811.74,645.46L811.74,651.67L813.05,651.67L813.05,653.19L814.37,653.19L814.37,651.44L815.68,651.44L815.68,652.68L817.00,652.68L817.00,664.80Z" fill="#7e7f31"/>
<path d="M817.00,664.80L817.00,658.07L818.27,658.07L818.27,657.98L819.55,657.98L819.55,658.22L820.82,658.22L820.83,650.56L822.10,650.56L822.10,650.59L823.38,650.59L823.38,650.80L824.65,650.80L824.65,657.30L825.92,657.30L825.92,656.84L827.20,656.84L827.20,656.84L828.48,656.84L828.48,657.78L829.75,657.78L829.75,659.39L831.02,659.39L831.02,659.21L832.30,659.21L832.30,659.31L833.57,659.31L833.57,659.15L834.85,659.15L834.85,659.87L836.12,659.87L836.12,659.44L837.40,659.44L837.40,664.80Z" fill="#047e36"/>
<rect x="670.90" y="521.40" width="3.4" height="40.7" fill="#5a72be"/>
<rect x="713.90" y="540.60" width="3.4" height="40.3" fill="#5a72be"/>
<rect x="672.60" y="549.40" width="43.00" height="3.4" fill="#5a72be"/>
<rect x="717.00" y="540.70" width="3.4" height="40.7" fill="#ab5479"/>
<rect x="763.00" y="559.90" width="3.4" height="40.3" fill="#ab5479"/>
<rect x="718.70" y="568.70" width="46.00" height="3.4" fill="#ab5479"/>
<rect x="766.00" y="559.30" width="3.4" height="40.7" fill="#83862e"/>
<rect x="815.30" y="578.50" width="3.4" height="40.3" fill="#83862e"/>
<rect x="767.70" y="587.30" width="49.30" height="3.4" fill="#83862e"/>
<path d="M1210.20,664.80L1210.20,658.80L1211.53,658.80L1211.53,658.50L1212.85,658.50L1212.85,658.82L1214.18,658.82L1214.18,658.55L1215.51,658.55L1215.51,660.35L1216.83,660.35L1216.83,660.29L1218.16,660.29L1218.16,660.17L1219.49,660.17L1219.49,660.05L1220.81,660.05L1220.81,652.66L1222.14,652.66L1222.14,651.37L1223.47,651.37L1223.47,659.28L1224.79,659.28L1224.79,659.74L1226.12,659.74L1226.12,659.66L1227.45,659.66L1227.45,654.29L1228.77,654.29L1228.77,654.40L1230.10,654.40L1230.10,664.80Z" fill="#047e36"/>
<path d="M1230.10,664.80L1230.10,646.81L1231.41,646.81L1231.41,640.05L1232.72,640.05L1232.72,637.93L1234.03,637.93L1234.03,618.06L1235.34,618.06L1235.34,615.69L1236.66,615.69L1236.66,597.57L1237.97,597.57L1237.97,504.73L1239.28,504.73L1239.28,505.05L1240.59,505.05L1240.59,504.99L1241.90,504.99L1241.90,505.36L1243.21,505.36L1243.21,522.32L1244.52,522.32L1244.52,524.10L1245.83,524.10L1245.83,525.74L1247.14,525.74L1247.14,528.01L1248.46,528.01L1248.46,531.89L1249.77,531.89L1249.77,535.50L1251.08,535.50L1251.08,538.11L1252.39,538.11L1252.39,550.80L1253.70,550.80L1253.70,573.11L1255.01,573.11L1255.01,586.10L1256.32,586.10L1256.32,600.46L1257.63,600.46L1257.63,612.47L1258.94,612.47L1258.94,618.18L1260.26,618.18L1260.26,622.49L1261.57,622.49L1261.57,625.43L1262.88,625.43L1262.88,628.95L1264.19,628.95L1264.19,631.81L1265.50,631.81L1265.50,664.80Z" fill="#abbae0"/>
<path d="M1230.10,664.80L1230.10,650.57L1231.41,650.57L1231.41,640.74L1232.72,640.74L1232.72,640.56L1234.03,640.56L1234.03,618.45L1235.34,618.45L1235.34,618.12L1236.66,618.12L1236.66,597.57L1237.97,597.57L1237.97,575.64L1239.28,575.64L1239.28,575.46L1240.59,575.46L1240.59,523.97L1241.90,523.97L1241.90,523.76L1243.21,523.76L1243.21,527.50L1244.52,527.50L1244.52,527.80L1245.83,527.80L1245.83,531.05L1247.14,531.05L1247.14,530.88L1248.46,530.88L1248.46,538.50L1249.77,538.50L1249.77,538.50L1251.08,538.50L1251.08,539.63L1252.39,539.63L1252.39,560.24L1253.70,560.24L1253.70,578.30L1255.01,578.30L1255.01,612.37L1256.32,612.37L1256.32,612.95L1257.63,612.95L1257.63,624.53L1258.94,624.53L1258.94,624.22L1260.26,624.22L1260.26,630.48L1261.57,630.48L1261.57,630.57L1262.88,630.57L1262.88,637.05L1264.19,637.05L1264.19,636.34L1265.50,636.34L1265.50,664.80Z" fill="#5b79ba"/>
<path d="M1265.50,664.80L1265.50,633.51L1266.83,633.51L1266.83,633.56L1268.16,633.56L1268.16,633.62L1269.48,633.62L1269.48,638.82L1270.81,638.82L1270.81,638.76L1272.14,638.76L1272.14,638.74L1273.47,638.74L1273.47,637.93L1274.79,637.93L1274.79,637.67L1276.12,637.67L1276.12,639.27L1277.45,639.27L1277.45,629.85L1278.78,629.85L1278.78,628.27L1280.11,628.27L1280.11,628.23L1281.43,628.23L1281.43,626.50L1282.76,626.50L1282.76,626.65L1284.09,626.65L1284.09,631.94L1285.42,631.94L1285.42,632.14L1286.74,632.14L1286.74,631.38L1288.07,631.38L1288.07,631.80L1289.40,631.80L1289.40,632.36L1290.73,632.36L1290.73,625.96L1292.06,625.96L1292.06,647.84L1293.38,647.84L1293.38,646.78L1294.71,646.78L1294.71,646.36L1296.04,646.36L1296.04,638.51L1297.37,638.51L1297.37,639.18L1298.69,639.18L1298.69,639.28L1300.02,639.28L1300.02,639.13L1301.35,639.13L1301.35,644.93L1302.68,644.93L1302.68,643.61L1304.01,643.61L1304.01,644.63L1305.33,644.63L1305.33,637.28L1306.66,637.28L1306.66,636.90L1307.99,636.90L1307.99,636.81L1309.32,636.81L1309.32,636.32L1310.64,636.32L1310.64,636.45L1311.97,636.45L1311.97,636.36L1313.30,636.36L1313.30,664.80Z" fill="#daa5bc"/>
<path d="M1265.50,664.80L1265.50,637.39L1266.83,637.39L1266.83,636.76L1268.16,636.76L1268.16,636.96L1269.48,636.96L1269.48,643.97L1270.81,643.97L1270.81,644.01L1272.14,644.01L1272.14,644.59L1273.47,644.59L1273.47,646.03L1274.79,646.03L1274.79,644.43L1276.12,644.43L1276.12,644.96L1277.45,644.96L1277.45,636.83L1278.78,636.83L1278.78,636.36L1280.11,636.36L1280.11,636.98L1281.43,636.98L1281.43,630.26L1282.76,630.26L1282.76,629.75L1284.09,629.75L1284.09,636.75L1285.42,636.75L1285.42,636.97L1286.74,636.97L1286.74,636.99L1288.07,636.99L1288.07,635.08L1289.40,635.08L1289.40,635.08L1290.73,635.08L1290.73,634.31L1292.06,634.31L1292.06,649.80L1293.38,649.80L1293.38,651.27L1294.71,651.27L1294.71,651.53L1296.04,651.53L1296.04,643.91L1297.37,643.91L1297.37,642.89L1298.69,642.89L1298.69,643.51L1300.02,643.51L1300.02,643.31L1301.35,643.31L1301.35,645.84L1302.68,645.84L1302.68,644.96L1304.01,644.96L1304.01,646.68L1305.33,646.68L1305.33,644.87L1306.66,644.87L1306.66,646.71L1307.99,646.71L1307.99,646.95L1309.32,646.95L1309.32,644.88L1310.64,644.88L1310.64,644.89L1311.97,644.89L1311.97,646.99L1313.30,646.99L1313.30,664.80Z" fill="#a24062"/>
<path d="M1313.30,664.80L1313.30,640.23L1314.61,640.23L1314.61,640.59L1315.92,640.59L1315.92,639.58L1317.24,639.58L1317.24,644.64L1318.55,644.64L1318.55,643.53L1319.86,643.53L1319.86,643.37L1321.17,643.37L1321.17,643.70L1322.49,643.70L1322.49,639.46L1323.80,639.46L1323.80,640.01L1325.11,640.01L1325.11,628.30L1326.42,628.30L1326.42,628.96L1327.73,628.96L1327.73,629.23L1329.05,629.23L1329.05,628.30L1330.36,628.30L1330.36,628.21L1331.67,628.21L1331.67,640.76L1332.98,640.76L1332.98,640.07L1334.30,640.07L1334.30,635.65L1335.61,635.65L1335.61,630.34L1336.92,630.34L1336.92,630.02L1338.23,630.02L1338.23,621.26L1339.54,621.26L1339.54,622.13L1340.86,622.13L1340.86,629.95L1342.17,629.95L1342.17,630.68L1343.48,630.68L1343.48,630.85L1344.79,630.85L1344.79,629.53L1346.10,629.53L1346.10,632.76L1347.42,632.76L1347.42,633.12L1348.73,633.12L1348.73,633.46L1350.04,633.46L1350.04,641.60L1351.35,641.60L1351.35,642.48L1352.67,642.48L1352.67,642.40L1353.98,642.40L1353.98,644.41L1355.29,644.41L1355.29,643.97L1356.60,643.97L1356.60,643.97L1357.91,643.97L1357.91,644.00L1359.23,644.00L1359.23,637.12L1360.54,637.12L1360.54,637.59L1361.85,637.59L1361.85,636.34L1363.16,636.34L1363.16,646.26L1364.48,646.26L1364.48,647.50L1365.79,647.50L1365.79,647.47L1367.10,647.47L1367.10,664.80Z" fill="#c7c893"/>
<path d="M1313.30,664.80L1313.30,644.15L1314.61,644.15L1314.61,642.35L1315.92,642.35L1315.92,644.26L1317.24,644.26L1317.24,647.68L1318.55,647.68L1318.55,647.45L1319.86,647.45L1319.86,646.56L1321.17,646.56L1321.17,646.49L1322.49,646.49L1322.49,642.24L1323.80,642.24L1323.80,642.96L1325.11,642.96L1325.11,644.71L1326.42,644.71L1326.42,646.99L1327.73,646.99L1327.73,646.61L1329.05,646.61L1329.05,634.09L1330.36,634.09L1330.36,634.65L1331.67,634.65L1331.67,642.36L1332.98,642.36L1332.98,642.96L1334.30,642.96L1334.30,637.76L1335.61,637.76L1335.61,632.67L1336.92,632.67L1336.92,632.55L1338.23,632.55L1338.23,626.77L1339.54,626.77L1339.54,627.46L1340.86,627.46L1340.86,632.45L1342.17,632.45L1342.17,634.11L1343.48,634.11L1343.48,633.77L1344.79,633.77L1344.79,633.52L1346.10,633.52L1346.10,636.95L1347.42,636.95L1347.42,638.67L1348.73,638.67L1348.73,638.38L1350.04,638.38L1350.04,645.26L1351.35,645.26L1351.35,646.68L1352.67,646.68L1352.67,645.59L1353.98,645.59L1353.98,646.76L1355.29,646.76L1355.29,648.31L1356.60,648.31L1356.60,648.32L1357.91,648.32L1357.91,647.93L1359.23,647.93L1359.23,640.21L1360.54,640.21L1360.54,640.53L1361.85,640.53L1361.85,640.46L1363.16,640.46L1363.16,652.61L1364.48,652.61L1364.48,651.61L1365.79,651.61L1365.79,651.18L1367.10,651.18L1367.10,664.80Z" fill="#7e7f31"/>
<path d="M1367.10,664.80L1367.10,653.22L1368.39,653.22L1368.39,653.03L1369.68,653.03L1369.68,658.33L1370.97,658.33L1370.97,658.02L1372.26,658.02L1372.26,657.98L1373.55,657.98L1373.55,658.27L1374.85,658.27L1374.85,658.44L1376.14,658.44L1376.14,655.16L1377.43,655.16L1377.43,655.55L1378.72,655.55L1378.72,654.97L1380.01,654.97L1380.01,661.50L1381.30,661.50L1381.30,664.80Z" fill="#047e36"/>
<rect x="1226.20" y="521.40" width="3.4" height="40.7" fill="#5a72be"/>
<rect x="1263.90" y="540.60" width="3.4" height="40.3" fill="#5a72be"/>
<rect x="1227.90" y="549.40" width="37.70" height="3.4" fill="#5a72be"/>
<rect x="1266.70" y="540.10" width="3.4" height="40.7" fill="#ab5479"/>
<rect x="1312.60" y="559.30" width="3.4" height="40.3" fill="#ab5479"/>
<rect x="1268.40" y="568.10" width="45.90" height="3.4" fill="#ab5479"/>
<rect x="1315.60" y="559.00" width="3.4" height="40.7" fill="#83862e"/>
<rect x="1365.40" y="578.20" width="3.4" height="40.3" fill="#83862e"/>
<rect x="1317.30" y="587.00" width="49.80" height="3.4" fill="#83862e"/>
<rect x="80.70" y="97.60" width="342.20" height="2.00" fill="#2d2926"/>
<rect x="80.70" y="97.60" width="2.00" height="192.10" fill="#2d2926"/>
<rect x="420.90" y="97.60" width="2.00" height="192.10" fill="#2d2926"/>
<rect x="80.70" y="288.00" width="342.20" height="3.40" fill="#2d2926"/>
<rect x="82.60" y="291.20" width="2.00" height="9.30" fill="#231f1c"/>
<rect x="89.43" y="291.20" width="1.80" height="5.30" fill="#4a4643"/>
<rect x="96.16" y="291.20" width="1.80" height="5.30" fill="#4a4643"/>
<rect x="102.90" y="291.20" width="1.80" height="5.30" fill="#4a4643"/>
<rect x="109.63" y="291.20" width="1.80" height="5.30" fill="#4a4643"/>
<rect x="116.26" y="291.20" width="2.00" height="9.30" fill="#231f1c"/>
<rect x="123.09" y="291.20" width="1.80" height="5.30" fill="#4a4643"/>
<rect x="129.82" y="291.20" width="1.80" height="5.30" fill="#4a4643"/>
<rect x="136.56" y="291.20" width="1.80" height="5.30" fill="#4a4643"/>
<rect x="143.29" y="291.20" width="1.80" height="5.30" fill="#4a4643"/>
<rect x="149.92" y="291.20" width="2.00" height="9.30" fill="#231f1c"/>
<rect x="156.75" y="291.20" width="1.80" height="5.30" fill="#4a4643"/>
<rect x="163.48" y="291.20" width="1.80" height="5.30" fill="#4a4643"/>
<rect x="170.22" y="291.20" width="1.80" height="5.30" fill="#4a4643"/>
<rect x="176.95" y="291.20" width="1.80" height="5.30" fill="#4a4643"/>
<rect x="183.58" y="291.20" width="2.00" height="9.30" fill="#231f1c"/>
<rect x="190.41" y="291.20" width="1.80" height="5.30" fill="#4a4643"/>
<rect x="197.14" y="291.20" width="1.80" height="5.30" fill="#4a4643"/>
<rect x="203.88" y="291.20" width="1.80" height="5.30" fill="#4a4643"/>
<rect x="210.61" y="291.20" width="1.80" height="5.30" fill="#4a4643"/>
<rect x="217.24" y="291.20" width="2.00" height="9.30" fill="#231f1c"/>
<rect x="224.07" y="291.20" width="1.80" height="5.30" fill="#4a4643"/>
<rect x="230.80" y="291.20" width="1.80" height="5.30" fill="#4a4643"/>
<rect x="237.54" y="291.20" width="1.80" height="5.30" fill="#4a4643"/>
<rect x="244.27" y="291.20" width="1.80" height="5.30" fill="#4a4643"/>
<rect x="250.90" y="291.20" width="2.00" height="9.30" fill="#231f1c"/>
<rect x="257.73" y="291.20" width="1.80" height="5.30" fill="#4a4643"/>
<rect x="264.46" y="291.20" width="1.80" height="5.30" fill="#4a4643"/>
<rect x="271.20" y="291.20" width="1.80" height="5.30" fill="#4a4643"/>
<rect x="277.93" y="291.20" width="1.80" height="5.30" fill="#4a4643"/>
<rect x="284.56" y="291.20" width="2.00" height="9.30" fill="#231f1c"/>
<rect x="291.39" y="291.20" width="1.80" height="5.30" fill="#4a4643"/>
<rect x="298.12" y="291.20" width="1.80" height="5.30" fill="#4a4643"/>
<rect x="304.86" y="291.20" width="1.80" height="5.30" fill="#4a4643"/>
<rect x="311.59" y="291.20" width="1.80" height="5.30" fill="#4a4643"/>
<rect x="318.22" y="291.20" width="2.00" height="9.30" fill="#231f1c"/>
<rect x="325.05" y="291.20" width="1.80" height="5.30" fill="#4a4643"/>
<rect x="331.78" y="291.20" width="1.80" height="5.30" fill="#4a4643"/>
<rect x="338.52" y="291.20" width="1.80" height="5.30" fill="#4a4643"/>
<rect x="345.25" y="291.20" width="1.80" height="5.30" fill="#4a4643"/>
<rect x="351.88" y="291.20" width="2.00" height="9.30" fill="#231f1c"/>
<rect x="358.71" y="291.20" width="1.80" height="5.30" fill="#4a4643"/>
<rect x="365.44" y="291.20" width="1.80" height="5.30" fill="#4a4643"/>
<rect x="372.18" y="291.20" width="1.80" height="5.30" fill="#4a4643"/>
<rect x="378.91" y="291.20" width="1.80" height="5.30" fill="#4a4643"/>
<rect x="385.54" y="291.20" width="2.00" height="9.30" fill="#231f1c"/>
<rect x="392.37" y="291.20" width="1.80" height="5.30" fill="#4a4643"/>
<rect x="399.10" y="291.20" width="1.80" height="5.30" fill="#4a4643"/>
<rect x="405.84" y="291.20" width="1.80" height="5.30" fill="#4a4643"/>
<rect x="412.57" y="291.20" width="1.80" height="5.30" fill="#4a4643"/>
<rect x="419.20" y="291.20" width="2.00" height="9.30" fill="#231f1c"/>
<rect x="74.70" y="288.30" width="6.50" height="1.80" fill="#3a3633"/>
<rect x="76.70" y="278.94" width="4.50" height="1.60" fill="#555"/>
<rect x="74.70" y="269.38" width="6.50" height="1.80" fill="#3a3633"/>
<rect x="76.70" y="260.02" width="4.50" height="1.60" fill="#555"/>
<rect x="74.70" y="250.46" width="6.50" height="1.80" fill="#3a3633"/>
<rect x="76.70" y="241.10" width="4.50" height="1.60" fill="#555"/>
<rect x="74.70" y="231.54" width="6.50" height="1.80" fill="#3a3633"/>
<rect x="76.70" y="222.18" width="4.50" height="1.60" fill="#555"/>
<rect x="74.70" y="212.62" width="6.50" height="1.80" fill="#3a3633"/>
<rect x="76.70" y="203.26" width="4.50" height="1.60" fill="#555"/>
<rect x="74.70" y="193.70" width="6.50" height="1.80" fill="#3a3633"/>
<rect x="76.70" y="184.34" width="4.50" height="1.60" fill="#555"/>
<rect x="74.70" y="174.78" width="6.50" height="1.80" fill="#3a3633"/>
<rect x="76.70" y="165.42" width="4.50" height="1.60" fill="#555"/>
<rect x="74.70" y="155.86" width="6.50" height="1.80" fill="#3a3633"/>
<rect x="76.70" y="146.50" width="4.50" height="1.60" fill="#555"/>
<rect x="74.70" y="136.94" width="6.50" height="1.80" fill="#3a3633"/>
<rect x="76.70" y="127.58" width="4.50" height="1.60" fill="#555"/>
<rect x="74.70" y="118.02" width="6.50" height="1.80" fill="#3a3633"/>
<rect x="76.70" y="108.66" width="4.50" height="1.60" fill="#555"/>
<rect x="74.70" y="99.10" width="6.50" height="1.80" fill="#3a3633"/>
<rect x="592.50" y="97.60" width="342.20" height="2.00" fill="#2d2926"/>
<rect x="592.50" y="97.60" width="2.00" height="192.10" fill="#2d2926"/>
<rect x="932.70" y="97.60" width="2.00" height="192.10" fill="#2d2926"/>
<rect x="592.50" y="288.00" width="342.20" height="3.40" fill="#2d2926"/>
<rect x="594.40" y="291.20" width="2.00" height="9.30" fill="#231f1c"/>
<rect x="601.23" y="291.20" width="1.80" height="5.30" fill="#4a4643"/>
<rect x="607.96" y="291.20" width="1.80" height="5.30" fill="#4a4643"/>
<rect x="614.70" y="291.20" width="1.80" height="5.30" fill="#4a4643"/>
<rect x="621.43" y="291.20" width="1.80" height="5.30" fill="#4a4643"/>
<rect x="628.06" y="291.20" width="2.00" height="9.30" fill="#231f1c"/>
<rect x="634.89" y="291.20" width="1.80" height="5.30" fill="#4a4643"/>
<rect x="641.62" y="291.20" width="1.80" height="5.30" fill="#4a4643"/>
<rect x="648.36" y="291.20" width="1.80" height="5.30" fill="#4a4643"/>
<rect x="655.09" y="291.20" width="1.80" height="5.30" fill="#4a4643"/>
<rect x="661.72" y="291.20" width="2.00" height="9.30" fill="#231f1c"/>
<rect x="668.55" y="291.20" width="1.80" height="5.30" fill="#4a4643"/>
<rect x="675.28" y="291.20" width="1.80" height="5.30" fill="#4a4643"/>
<rect x="682.02" y="291.20" width="1.80" height="5.30" fill="#4a4643"/>
<rect x="688.75" y="291.20" width="1.80" height="5.30" fill="#4a4643"/>
<rect x="695.38" y="291.20" width="2.00" height="9.30" fill="#231f1c"/>
<rect x="702.21" y="291.20" width="1.80" height="5.30" fill="#4a4643"/>
<rect x="708.94" y="291.20" width="1.80" height="5.30" fill="#4a4643"/>
<rect x="715.68" y="291.20" width="1.80" height="5.30" fill="#4a4643"/>
<rect x="722.41" y="291.20" width="1.80" height="5.30" fill="#4a4643"/>
<rect x="729.04" y="291.20" width="2.00" height="9.30" fill="#231f1c"/>
<rect x="735.87" y="291.20" width="1.80" height="5.30" fill="#4a4643"/>
<rect x="742.60" y="291.20" width="1.80" height="5.30" fill="#4a4643"/>
<rect x="749.34" y="291.20" width="1.80" height="5.30" fill="#4a4643"/>
<rect x="756.07" y="291.20" width="1.80" height="5.30" fill="#4a4643"/>
<rect x="762.70" y="291.20" width="2.00" height="9.30" fill="#231f1c"/>
<rect x="769.53" y="291.20" width="1.80" height="5.30" fill="#4a4643"/>
<rect x="776.26" y="291.20" width="1.80" height="5.30" fill="#4a4643"/>
<rect x="783.00" y="291.20" width="1.80" height="5.30" fill="#4a4643"/>
<rect x="789.73" y="291.20" width="1.80" height="5.30" fill="#4a4643"/>
<rect x="796.36" y="291.20" width="2.00" height="9.30" fill="#231f1c"/>
<rect x="803.19" y="291.20" width="1.80" height="5.30" fill="#4a4643"/>
<rect x="809.92" y="291.20" width="1.80" height="5.30" fill="#4a4643"/>
<rect x="816.66" y="291.20" width="1.80" height="5.30" fill="#4a4643"/>
<rect x="823.39" y="291.20" width="1.80" height="5.30" fill="#4a4643"/>
<rect x="830.02" y="291.20" width="2.00" height="9.30" fill="#231f1c"/>
<rect x="836.85" y="291.20" width="1.80" height="5.30" fill="#4a4643"/>
<rect x="843.58" y="291.20" width="1.80" height="5.30" fill="#4a4643"/>
<rect x="850.32" y="291.20" width="1.80" height="5.30" fill="#4a4643"/>
<rect x="857.05" y="291.20" width="1.80" height="5.30" fill="#4a4643"/>
<rect x="863.68" y="291.20" width="2.00" height="9.30" fill="#231f1c"/>
<rect x="870.51" y="291.20" width="1.80" height="5.30" fill="#4a4643"/>
<rect x="877.24" y="291.20" width="1.80" height="5.30" fill="#4a4643"/>
<rect x="883.98" y="291.20" width="1.80" height="5.30" fill="#4a4643"/>
<rect x="890.71" y="291.20" width="1.80" height="5.30" fill="#4a4643"/>
<rect x="897.34" y="291.20" width="2.00" height="9.30" fill="#231f1c"/>
<rect x="904.17" y="291.20" width="1.80" height="5.30" fill="#4a4643"/>
<rect x="910.90" y="291.20" width="1.80" height="5.30" fill="#4a4643"/>
<rect x="917.64" y="291.20" width="1.80" height="5.30" fill="#4a4643"/>
<rect x="924.37" y="291.20" width="1.80" height="5.30" fill="#4a4643"/>
<rect x="931.00" y="291.20" width="2.00" height="9.30" fill="#231f1c"/>
<rect x="586.50" y="288.30" width="6.50" height="1.80" fill="#3a3633"/>
<rect x="588.50" y="278.94" width="4.50" height="1.60" fill="#555"/>
<rect x="586.50" y="269.38" width="6.50" height="1.80" fill="#3a3633"/>
<rect x="588.50" y="260.02" width="4.50" height="1.60" fill="#555"/>
<rect x="586.50" y="250.46" width="6.50" height="1.80" fill="#3a3633"/>
<rect x="588.50" y="241.10" width="4.50" height="1.60" fill="#555"/>
<rect x="586.50" y="231.54" width="6.50" height="1.80" fill="#3a3633"/>
<rect x="588.50" y="222.18" width="4.50" height="1.60" fill="#555"/>
<rect x="586.50" y="212.62" width="6.50" height="1.80" fill="#3a3633"/>
<rect x="588.50" y="203.26" width="4.50" height="1.60" fill="#555"/>
<rect x="586.50" y="193.70" width="6.50" height="1.80" fill="#3a3633"/>
<rect x="588.50" y="184.34" width="4.50" height="1.60" fill="#555"/>
<rect x="586.50" y="174.78" width="6.50" height="1.80" fill="#3a3633"/>
<rect x="588.50" y="165.42" width="4.50" height="1.60" fill="#555"/>
<rect x="586.50" y="155.86" width="6.50" height="1.80" fill="#3a3633"/>
<rect x="588.50" y="146.50" width="4.50" height="1.60" fill="#555"/>
<rect x="586.50" y="136.94" width="6.50" height="1.80" fill="#3a3633"/>
<rect x="588.50" y="127.58" width="4.50" height="1.60" fill="#555"/>
<rect x="586.50" y="118.02" width="6.50" height="1.80" fill="#3a3633"/>
<rect x="588.50" y="108.66" width="4.50" height="1.60" fill="#555"/>
<rect x="586.50" y="99.10" width="6.50" height="1.80" fill="#3a3633"/>
<rect x="1134.60" y="97.60" width="342.20" height="2.00" fill="#2d2926"/>
<rect x="1134.60" y="97.60" width="2.00" height="192.10" fill="#2d2926"/>
<rect x="1474.80" y="97.60" width="2.00" height="192.10" fill="#2d2926"/>
<rect x="1134.60" y="288.00" width="342.20" height="3.40" fill="#2d2926"/>
<rect x="1136.50" y="291.20" width="2.00" height="9.30" fill="#231f1c"/>
<rect x="1143.33" y="291.20" width="1.80" height="5.30" fill="#4a4643"/>
<rect x="1150.06" y="291.20" width="1.80" height="5.30" fill="#4a4643"/>
<rect x="1156.80" y="291.20" width="1.80" height="5.30" fill="#4a4643"/>
<rect x="1163.53" y="291.20" width="1.80" height="5.30" fill="#4a4643"/>
<rect x="1170.16" y="291.20" width="2.00" height="9.30" fill="#231f1c"/>
<rect x="1176.99" y="291.20" width="1.80" height="5.30" fill="#4a4643"/>
<rect x="1183.72" y="291.20" width="1.80" height="5.30" fill="#4a4643"/>
<rect x="1190.46" y="291.20" width="1.80" height="5.30" fill="#4a4643"/>
<rect x="1197.19" y="291.20" width="1.80" height="5.30" fill="#4a4643"/>
<rect x="1203.82" y="291.20" width="2.00" height="9.30" fill="#231f1c"/>
<rect x="1210.65" y="291.20" width="1.80" height="5.30" fill="#4a4643"/>
<rect x="1217.38" y="291.20" width="1.80" height="5.30" fill="#4a4643"/>
<rect x="1224.12" y="291.20" width="1.80" height="5.30" fill="#4a4643"/>
<rect x="1230.85" y="291.20" width="1.80" height="5.30" fill="#4a4643"/>
<rect x="1237.48" y="291.20" width="2.00" height="9.30" fill="#231f1c"/>
<rect x="1244.31" y="291.20" width="1.80" height="5.30" fill="#4a4643"/>
<rect x="1251.04" y="291.20" width="1.80" height="5.30" fill="#4a4643"/>
<rect x="1257.78" y="291.20" width="1.80" height="5.30" fill="#4a4643"/>
<rect x="1264.51" y="291.20" width="1.80" height="5.30" fill="#4a4643"/>
<rect x="1271.14" y="291.20" width="2.00" height="9.30" fill="#231f1c"/>
<rect x="1277.97" y="291.20" width="1.80" height="5.30" fill="#4a4643"/>
<rect x="1284.70" y="291.20" width="1.80" height="5.30" fill="#4a4643"/>
<rect x="1291.44" y="291.20" width="1.80" height="5.30" fill="#4a4643"/>
<rect x="1298.17" y="291.20" width="1.80" height="5.30" fill="#4a4643"/>
<rect x="1304.80" y="291.20" width="2.00" height="9.30" fill="#231f1c"/>
<rect x="1311.63" y="291.20" width="1.80" height="5.30" fill="#4a4643"/>
<rect x="1318.36" y="291.20" width="1.80" height="5.30" fill="#4a4643"/>
<rect x="1325.10" y="291.20" width="1.80" height="5.30" fill="#4a4643"/>
<rect x="1331.83" y="291.20" width="1.80" height="5.30" fill="#4a4643"/>
<rect x="1338.46" y="291.20" width="2.00" height="9.30" fill="#231f1c"/>
<rect x="1345.29" y="291.20" width="1.80" height="5.30" fill="#4a4643"/>
<rect x="1352.02" y="291.20" width="1.80" height="5.30" fill="#4a4643"/>
<rect x="1358.76" y="291.20" width="1.80" height="5.30" fill="#4a4643"/>
<rect x="1365.49" y="291.20" width="1.80" height="5.30" fill="#4a4643"/>
<rect x="1372.12" y="291.20" width="2.00" height="9.30" fill="#231f1c"/>
<rect x="1378.95" y="291.20" width="1.80" height="5.30" fill="#4a4643"/>
<rect x="1385.68" y="291.20" width="1.80" height="5.30" fill="#4a4643"/>
<rect x="1392.42" y="291.20" width="1.80" height="5.30" fill="#4a4643"/>
<rect x="1399.15" y="291.20" width="1.80" height="5.30" fill="#4a4643"/>
<rect x="1405.78" y="291.20" width="2.00" height="9.30" fill="#231f1c"/>
<rect x="1412.61" y="291.20" width="1.80" height="5.30" fill="#4a4643"/>
<rect x="1419.34" y="291.20" width="1.80" height="5.30" fill="#4a4643"/>
<rect x="1426.08" y="291.20" width="1.80" height="5.30" fill="#4a4643"/>
<rect x="1432.81" y="291.20" width="1.80" height="5.30" fill="#4a4643"/>
<rect x="1439.44" y="291.20" width="2.00" height="9.30" fill="#231f1c"/>
<rect x="1446.27" y="291.20" width="1.80" height="5.30" fill="#4a4643"/>
<rect x="1453.00" y="291.20" width="1.80" height="5.30" fill="#4a4643"/>
<rect x="1459.74" y="291.20" width="1.80" height="5.30" fill="#4a4643"/>
<rect x="1466.47" y="291.20" width="1.80" height="5.30" fill="#4a4643"/>
<rect x="1473.10" y="291.20" width="2.00" height="9.30" fill="#231f1c"/>
<rect x="1128.60" y="288.30" width="6.50" height="1.80" fill="#3a3633"/>
<rect x="1130.60" y="278.94" width="4.50" height="1.60" fill="#555"/>
<rect x="1128.60" y="269.38" width="6.50" height="1.80" fill="#3a3633"/>
<rect x="1130.60" y="260.02" width="4.50" height="1.60" fill="#555"/>
<rect x="1128.60" y="250.46" width="6.50" height="1.80" fill="#3a3633"/>
<rect x="1130.60" y="241.10" width="4.50" height="1.60" fill="#555"/>
<rect x="1128.60" y="231.54" width="6.50" height="1.80" fill="#3a3633"/>
<rect x="1130.60" y="222.18" width="4.50" height="1.60" fill="#555"/>
<rect x="1128.60" y="212.62" width="6.50" height="1.80" fill="#3a3633"/>
<rect x="1130.60" y="203.26" width="4.50" height="1.60" fill="#555"/>
<rect x="1128.60" y="193.70" width="6.50" height="1.80" fill="#3a3633"/>
<rect x="1130.60" y="184.34" width="4.50" height="1.60" fill="#555"/>
<rect x="1128.60" y="174.78" width="6.50" height="1.80" fill="#3a3633"/>
<rect x="1130.60" y="165.42" width="4.50" height="1.60" fill="#555"/>
<rect x="1128.60" y="155.86" width="6.50" height="1.80" fill="#3a3633"/>
<rect x="1130.60" y="146.50" width="4.50" height="1.60" fill="#555"/>
<rect x="1128.60" y="136.94" width="6.50" height="1.80" fill="#3a3633"/>
<rect x="1130.60" y="127.58" width="4.50" height="1.60" fill="#555"/>
<rect x="1128.60" y="118.02" width="6.50" height="1.80" fill="#3a3633"/>
<rect x="1130.60" y="108.66" width="4.50" height="1.60" fill="#555"/>
<rect x="1128.60" y="99.10" width="6.50" height="1.80" fill="#3a3633"/>
<rect x="80.70" y="472.80" width="342.20" height="2.00" fill="#2d2926"/>
<rect x="80.70" y="472.80" width="2.00" height="192.10" fill="#2d2926"/>
<rect x="420.90" y="472.80" width="2.00" height="192.10" fill="#2d2926"/>
<rect x="80.70" y="663.20" width="342.20" height="3.40" fill="#2d2926"/>
<rect x="82.60" y="666.40" width="2.00" height="9.30" fill="#231f1c"/>
<rect x="89.43" y="666.40" width="1.80" height="5.30" fill="#4a4643"/>
<rect x="96.16" y="666.40" width="1.80" height="5.30" fill="#4a4643"/>
<rect x="102.90" y="666.40" width="1.80" height="5.30" fill="#4a4643"/>
<rect x="109.63" y="666.40" width="1.80" height="5.30" fill="#4a4643"/>
<rect x="116.26" y="666.40" width="2.00" height="9.30" fill="#231f1c"/>
<rect x="123.09" y="666.40" width="1.80" height="5.30" fill="#4a4643"/>
<rect x="129.82" y="666.40" width="1.80" height="5.30" fill="#4a4643"/>
<rect x="136.56" y="666.40" width="1.80" height="5.30" fill="#4a4643"/>
<rect x="143.29" y="666.40" width="1.80" height="5.30" fill="#4a4643"/>
<rect x="149.92" y="666.40" width="2.00" height="9.30" fill="#231f1c"/>
<rect x="156.75" y="666.40" width="1.80" height="5.30" fill="#4a4643"/>
<rect x="163.48" y="666.40" width="1.80" height="5.30" fill="#4a4643"/>
<rect x="170.22" y="666.40" width="1.80" height="5.30" fill="#4a4643"/>
<rect x="176.95" y="666.40" width="1.80" height="5.30" fill="#4a4643"/>
<rect x="183.58" y="666.40" width="2.00" height="9.30" fill="#231f1c"/>
<rect x="190.41" y="666.40" width="1.80" height="5.30" fill="#4a4643"/>
<rect x="197.14" y="666.40" width="1.80" height="5.30" fill="#4a4643"/>
<rect x="203.88" y="666.40" width="1.80" height="5.30" fill="#4a4643"/>
<rect x="210.61" y="666.40" width="1.80" height="5.30" fill="#4a4643"/>
<rect x="217.24" y="666.40" width="2.00" height="9.30" fill="#231f1c"/>
<rect x="224.07" y="666.40" width="1.80" height="5.30" fill="#4a4643"/>
<rect x="230.80" y="666.40" width="1.80" height="5.30" fill="#4a4643"/>
<rect x="237.54" y="666.40" width="1.80" height="5.30" fill="#4a4643"/>
<rect x="244.27" y="666.40" width="1.80" height="5.30" fill="#4a4643"/>
<rect x="250.90" y="666.40" width="2.00" height="9.30" fill="#231f1c"/>
<rect x="257.73" y="666.40" width="1.80" height="5.30" fill="#4a4643"/>
<rect x="264.46" y="666.40" width="1.80" height="5.30" fill="#4a4643"/>
<rect x="271.20" y="666.40" width="1.80" height="5.30" fill="#4a4643"/>
<rect x="277.93" y="666.40" width="1.80" height="5.30" fill="#4a4643"/>
<rect x="284.56" y="666.40" width="2.00" height="9.30" fill="#231f1c"/>
<rect x="291.39" y="666.40" width="1.80" height="5.30" fill="#4a4643"/>
<rect x="298.12" y="666.40" width="1.80" height="5.30" fill="#4a4643"/>
<rect x="304.86" y="666.40" width="1.80" height="5.30" fill="#4a4643"/>
<rect x="311.59" y="666.40" width="1.80" height="5.30" fill="#4a4643"/>
<rect x="318.22" y="666.40" width="2.00" height="9.30" fill="#231f1c"/>
<rect x="325.05" y="666.40" width="1.80" height="5.30" fill="#4a4643"/>
<rect x="331.78" y="666.40" width="1.80" height="5.30" fill="#4a4643"/>
<rect x="338.52" y="666.40" width="1.80" height="5.30" fill="#4a4643"/>
<rect x="345.25" y="666.40" width="1.80" height="5.30" fill="#4a4643"/>
<rect x="351.88" y="666.40" width="2.00" height="9.30" fill="#231f1c"/>
<rect x="358.71" y="666.40" width="1.80" height="5.30" fill="#4a4643"/>
<rect x="365.44" y="666.40" width="1.80" height="5.30" fill="#4a4643"/>
<rect x="372.18" y="666.40" width="1.80" height="5.30" fill="#4a4643"/>
<rect x="378.91" y="666.40" width="1.80" height="5.30" fill="#4a4643"/>
<rect x="385.54" y="666.40" width="2.00" height="9.30" fill="#231f1c"/>
<rect x="392.37" y="666.40" width="1.80" height="5.30" fill="#4a4643"/>
<rect x="399.10" y="666.40" width="1.80" height="5.30" fill="#4a4643"/>
<rect x="405.84" y="666.40" width="1.80" height="5.30" fill="#4a4643"/>
<rect x="412.57" y="666.40" width="1.80" height="5.30" fill="#4a4643"/>
<rect x="419.20" y="666.40" width="2.00" height="9.30" fill="#231f1c"/>
<rect x="74.70" y="663.50" width="6.50" height="1.80" fill="#3a3633"/>
<rect x="76.70" y="654.14" width="4.50" height="1.60" fill="#555"/>
<rect x="74.70" y="644.58" width="6.50" height="1.80" fill="#3a3633"/>
<rect x="76.70" y="635.22" width="4.50" height="1.60" fill="#555"/>
<rect x="74.70" y="625.66" width="6.50" height="1.80" fill="#3a3633"/>
<rect x="76.70" y="616.30" width="4.50" height="1.60" fill="#555"/>
<rect x="74.70" y="606.74" width="6.50" height="1.80" fill="#3a3633"/>
<rect x="76.70" y="597.38" width="4.50" height="1.60" fill="#555"/>
<rect x="74.70" y="587.82" width="6.50" height="1.80" fill="#3a3633"/>
<rect x="76.70" y="578.46" width="4.50" height="1.60" fill="#555"/>
<rect x="74.70" y="568.90" width="6.50" height="1.80" fill="#3a3633"/>
<rect x="76.70" y="559.54" width="4.50" height="1.60" fill="#555"/>
<rect x="74.70" y="549.98" width="6.50" height="1.80" fill="#3a3633"/>
<rect x="76.70" y="540.62" width="4.50" height="1.60" fill="#555"/>
<rect x="74.70" y="531.06" width="6.50" height="1.80" fill="#3a3633"/>
<rect x="76.70" y="521.70" width="4.50" height="1.60" fill="#555"/>
<rect x="74.70" y="512.14" width="6.50" height="1.80" fill="#3a3633"/>
<rect x="76.70" y="502.78" width="4.50" height="1.60" fill="#555"/>
<rect x="74.70" y="493.22" width="6.50" height="1.80" fill="#3a3633"/>
<rect x="76.70" y="483.86" width="4.50" height="1.60" fill="#555"/>
<rect x="74.70" y="474.30" width="6.50" height="1.80" fill="#3a3633"/>
<rect x="592.50" y="472.80" width="342.20" height="2.00" fill="#2d2926"/>
<rect x="592.50" y="472.80" width="2.00" height="192.10" fill="#2d2926"/>
<rect x="932.70" y="472.80" width="2.00" height="192.10" fill="#2d2926"/>
<rect x="592.50" y="663.20" width="342.20" height="3.40" fill="#2d2926"/>
<rect x="594.40" y="666.40" width="2.00" height="9.30" fill="#231f1c"/>
<rect x="601.23" y="666.40" width="1.80" height="5.30" fill="#4a4643"/>
<rect x="607.96" y="666.40" width="1.80" height="5.30" fill="#4a4643"/>
<rect x="614.70" y="666.40" width="1.80" height="5.30" fill="#4a4643"/>
<rect x="621.43" y="666.40" width="1.80" height="5.30" fill="#4a4643"/>
<rect x="628.06" y="666.40" width="2.00" height="9.30" fill="#231f1c"/>
<rect x="634.89" y="666.40" width="1.80" height="5.30" fill="#4a4643"/>
<rect x="641.62" y="666.40" width="1.80" height="5.30" fill="#4a4643"/>
<rect x="648.36" y="666.40" width="1.80" height="5.30" fill="#4a4643"/>
<rect x="655.09" y="666.40" width="1.80" height="5.30" fill="#4a4643"/>
<rect x="661.72" y="666.40" width="2.00" height="9.30" fill="#231f1c"/>
<rect x="668.55" y="666.40" width="1.80" height="5.30" fill="#4a4643"/>
<rect x="675.28" y="666.40" width="1.80" height="5.30" fill="#4a4643"/>
<rect x="682.02" y="666.40" width="1.80" height="5.30" fill="#4a4643"/>
<rect x="688.75" y="666.40" width="1.80" height="5.30" fill="#4a4643"/>
<rect x="695.38" y="666.40" width="2.00" height="9.30" fill="#231f1c"/>
<rect x="702.21" y="666.40" width="1.80" height="5.30" fill="#4a4643"/>
<rect x="708.94" y="666.40" width="1.80" height="5.30" fill="#4a4643"/>
<rect x="715.68" y="666.40" width="1.80" height="5.30" fill="#4a4643"/>
<rect x="722.41" y="666.40" width="1.80" height="5.30" fill="#4a4643"/>
<rect x="729.04" y="666.40" width="2.00" height="9.30" fill="#231f1c"/>
<rect x="735.87" y="666.40" width="1.80" height="5.30" fill="#4a4643"/>
<rect x="742.60" y="666.40" width="1.80" height="5.30" fill="#4a4643"/>
<rect x="749.34" y="666.40" width="1.80" height="5.30" fill="#4a4643"/>
<rect x="756.07" y="666.40" width="1.80" height="5.30" fill="#4a4643"/>
<rect x="762.70" y="666.40" width="2.00" height="9.30" fill="#231f1c"/>
<rect x="769.53" y="666.40" width="1.80" height="5.30" fill="#4a4643"/>
<rect x="776.26" y="666.40" width="1.80" height="5.30" fill="#4a4643"/>
<rect x="783.00" y="666.40" width="1.80" height="5.30" fill="#4a4643"/>
<rect x="789.73" y="666.40" width="1.80" height="5.30" fill="#4a4643"/>
<rect x="796.36" y="666.40" width="2.00" height="9.30" fill="#231f1c"/>
<rect x="803.19" y="666.40" width="1.80" height="5.30" fill="#4a4643"/>
<rect x="809.92" y="666.40" width="1.80" height="5.30" fill="#4a4643"/>
<rect x="816.66" y="666.40" width="1.80" height="5.30" fill="#4a4643"/>
<rect x="823.39" y="666.40" width="1.80" height="5.30" fill="#4a4643"/>
<rect x="830.02" y="666.40" width="2.00" height="9.30" fill="#231f1c"/>
<rect x="836.85" y="666.40" width="1.80" height="5.30" fill="#4a4643"/>
<rect x="843.58" y="666.40" width="1.80" height="5.30" fill="#4a4643"/>
<rect x="850.32" y="666.40" width="1.80" height="5.30" fill="#4a4643"/>
<rect x="857.05" y="666.40" width="1.80" height="5.30" fill="#4a4643"/>
<rect x="863.68" y="666.40" width="2.00" height="9.30" fill="#231f1c"/>
<rect x="870.51" y="666.40" width="1.80" height="5.30" fill="#4a4643"/>
<rect x="877.24" y="666.40" width="1.80" height="5.30" fill="#4a4643"/>
<rect x="883.98" y="666.40" width="1.80" height="5.30" fill="#4a4643"/>
<rect x="890.71" y="666.40" width="1.80" height="5.30" fill="#4a4643"/>
<rect x="897.34" y="666.40" width="2.00" height="9.30" fill="#231f1c"/>
<rect x="904.17" y="666.40" width="1.80" height="5.30" fill="#4a4643"/>
<rect x="910.90" y="666.40" width="1.80" height="5.30" fill="#4a4643"/>
<rect x="917.64" y="666.40" width="1.80" height="5.30" fill="#4a4643"/>
<rect x="924.37" y="666.40" width="1.80" height="5.30" fill="#4a4643"/>
<rect x="931.00" y="666.40" width="2.00" height="9.30" fill="#231f1c"/>
<rect x="586.50" y="663.50" width="6.50" height="1.80" fill="#3a3633"/>
<rect x="588.50" y="654.14" width="4.50" height="1.60" fill="#555"/>
<rect x="586.50" y="644.58" width="6.50" height="1.80" fill="#3a3633"/>
<rect x="588.50" y="635.22" width="4.50" height="1.60" fill="#555"/>
<rect x="586.50" y="625.66" width="6.50" height="1.80" fill="#3a3633"/>
<rect x="588.50" y="616.30" width="4.50" height="1.60" fill="#555"/>
<rect x="586.50" y="606.74" width="6.50" height="1.80" fill="#3a3633"/>
<rect x="588.50" y="597.38" width="4.50" height="1.60" fill="#555"/>
<rect x="586.50" y="587.82" width="6.50" height="1.80" fill="#3a3633"/>
<rect x="588.50" y="578.46" width="4.50" height="1.60" fill="#555"/>
<rect x="586.50" y="568.90" width="6.50" height="1.80" fill="#3a3633"/>
<rect x="588.50" y="559.54" width="4.50" height="1.60" fill="#555"/>
<rect x="586.50" y="549.98" width="6.50" height="1.80" fill="#3a3633"/>
<rect x="588.50" y="540.62" width="4.50" height="1.60" fill="#555"/>
<rect x="586.50" y="531.06" width="6.50" height="1.80" fill="#3a3633"/>
<rect x="588.50" y="521.70" width="4.50" height="1.60" fill="#555"/>
<rect x="586.50" y="512.14" width="6.50" height="1.80" fill="#3a3633"/>
<rect x="588.50" y="502.78" width="4.50" height="1.60" fill="#555"/>
<rect x="586.50" y="493.22" width="6.50" height="1.80" fill="#3a3633"/>
<rect x="588.50" y="483.86" width="4.50" height="1.60" fill="#555"/>
<rect x="586.50" y="474.30" width="6.50" height="1.80" fill="#3a3633"/>
<rect x="1134.60" y="472.80" width="342.20" height="2.00" fill="#2d2926"/>
<rect x="1134.60" y="472.80" width="2.00" height="192.10" fill="#2d2926"/>
<rect x="1474.80" y="472.80" width="2.00" height="192.10" fill="#2d2926"/>
<rect x="1134.60" y="663.20" width="342.20" height="3.40" fill="#2d2926"/>
<rect x="1136.50" y="666.40" width="2.00" height="9.30" fill="#231f1c"/>
<rect x="1143.33" y="666.40" width="1.80" height="5.30" fill="#4a4643"/>
<rect x="1150.06" y="666.40" width="1.80" height="5.30" fill="#4a4643"/>
<rect x="1156.80" y="666.40" width="1.80" height="5.30" fill="#4a4643"/>
<rect x="1163.53" y="666.40" width="1.80" height="5.30" fill="#4a4643"/>
<rect x="1170.16" y="666.40" width="2.00" height="9.30" fill="#231f1c"/>
<rect x="1176.99" y="666.40" width="1.80" height="5.30" fill="#4a4643"/>
<rect x="1183.72" y="666.40" width="1.80" height="5.30" fill="#4a4643"/>
<rect x="1190.46" y="666.40" width="1.80" height="5.30" fill="#4a4643"/>
<rect x="1197.19" y="666.40" width="1.80" height="5.30" fill="#4a4643"/>
<rect x="1203.82" y="666.40" width="2.00" height="9.30" fill="#231f1c"/>
<rect x="1210.65" y="666.40" width="1.80" height="5.30" fill="#4a4643"/>
<rect x="1217.38" y="666.40" width="1.80" height="5.30" fill="#4a4643"/>
<rect x="1224.12" y="666.40" width="1.80" height="5.30" fill="#4a4643"/>
<rect x="1230.85" y="666.40" width="1.80" height="5.30" fill="#4a4643"/>
<rect x="1237.48" y="666.40" width="2.00" height="9.30" fill="#231f1c"/>
<rect x="1244.31" y="666.40" width="1.80" height="5.30" fill="#4a4643"/>
<rect x="1251.04" y="666.40" width="1.80" height="5.30" fill="#4a4643"/>
<rect x="1257.78" y="666.40" width="1.80" height="5.30" fill="#4a4643"/>
<rect x="1264.51" y="666.40" width="1.80" height="5.30" fill="#4a4643"/>
<rect x="1271.14" y="666.40" width="2.00" height="9.30" fill="#231f1c"/>
<rect x="1277.97" y="666.40" width="1.80" height="5.30" fill="#4a4643"/>
<rect x="1284.70" y="666.40" width="1.80" height="5.30" fill="#4a4643"/>
<rect x="1291.44" y="666.40" width="1.80" height="5.30" fill="#4a4643"/>
<rect x="1298.17" y="666.40" width="1.80" height="5.30" fill="#4a4643"/>
<rect x="1304.80" y="666.40" width="2.00" height="9.30" fill="#231f1c"/>
<rect x="1311.63" y="666.40" width="1.80" height="5.30" fill="#4a4643"/>
<rect x="1318.36" y="666.40" width="1.80" height="5.30" fill="#4a4643"/>
<rect x="1325.10" y="666.40" width="1.80" height="5.30" fill="#4a4643"/>
<rect x="1331.83" y="666.40" width="1.80" height="5.30" fill="#4a4643"/>
<rect x="1338.46" y="666.40" width="2.00" height="9.30" fill="#231f1c"/>
<rect x="1345.29" y="666.40" width="1.80" height="5.30" fill="#4a4643"/>
<rect x="1352.02" y="666.40" width="1.80" height="5.30" fill="#4a4643"/>
<rect x="1358.76" y="666.40" width="1.80" height="5.30" fill="#4a4643"/>
<rect x="1365.49" y="666.40" width="1.80" height="5.30" fill="#4a4643"/>
<rect x="1372.12" y="666.40" width="2.00" height="9.30" fill="#231f1c"/>
<rect x="1378.95" y="666.40" width="1.80" height="5.30" fill="#4a4643"/>
<rect x="1385.68" y="666.40" width="1.80" height="5.30" fill="#4a4643"/>
<rect x="1392.42" y="666.40" width="1.80" height="5.30" fill="#4a4643"/>
<rect x="1399.15" y="666.40" width="1.80" height="5.30" fill="#4a4643"/>
<rect x="1405.78" y="666.40" width="2.00" height="9.30" fill="#231f1c"/>
<rect x="1412.61" y="666.40" width="1.80" height="5.30" fill="#4a4643"/>
<rect x="1419.34" y="666.40" width="1.80" height="5.30" fill="#4a4643"/>
<rect x="1426.08" y="666.40" width="1.80" height="5.30" fill="#4a4643"/>
<rect x="1432.81" y="666.40" width="1.80" height="5.30" fill="#4a4643"/>
<rect x="1439.44" y="666.40" width="2.00" height="9.30" fill="#231f1c"/>
<rect x="1446.27" y="666.40" width="1.80" height="5.30" fill="#4a4643"/>
<rect x="1453.00" y="666.40" width="1.80" height="5.30" fill="#4a4643"/>
<rect x="1459.74" y="666.40" width="1.80" height="5.30" fill="#4a4643"/>
<rect x="1466.47" y="666.40" width="1.80" height="5.30" fill="#4a4643"/>
<rect x="1473.10" y="666.40" width="2.00" height="9.30" fill="#231f1c"/>
<rect x="1128.60" y="663.50" width="6.50" height="1.80" fill="#3a3633"/>
<rect x="1130.60" y="654.14" width="4.50" height="1.60" fill="#555"/>
<rect x="1128.60" y="644.58" width="6.50" height="1.80" fill="#3a3633"/>
<rect x="1130.60" y="635.22" width="4.50" height="1.60" fill="#555"/>
<rect x="1128.60" y="625.66" width="6.50" height="1.80" fill="#3a3633"/>
<rect x="1130.60" y="616.30" width="4.50" height="1.60" fill="#555"/>
<rect x="1128.60" y="606.74" width="6.50" height="1.80" fill="#3a3633"/>
<rect x="1130.60" y="597.38" width="4.50" height="1.60" fill="#555"/>
<rect x="1128.60" y="587.82" width="6.50" height="1.80" fill="#3a3633"/>
<rect x="1130.60" y="578.46" width="4.50" height="1.60" fill="#555"/>
<rect x="1128.60" y="568.90" width="6.50" height="1.80" fill="#3a3633"/>
<rect x="1130.60" y="559.54" width="4.50" height="1.60" fill="#555"/>
<rect x="1128.60" y="549.98" width="6.50" height="1.80" fill="#3a3633"/>
<rect x="1130.60" y="540.62" width="4.50" height="1.60" fill="#555"/>
<rect x="1128.60" y="531.06" width="6.50" height="1.80" fill="#3a3633"/>
<rect x="1130.60" y="521.70" width="4.50" height="1.60" fill="#555"/>
<rect x="1128.60" y="512.14" width="6.50" height="1.80" fill="#3a3633"/>
<rect x="1130.60" y="502.78" width="4.50" height="1.60" fill="#555"/>
<rect x="1128.60" y="493.22" width="6.50" height="1.80" fill="#3a3633"/>
<rect x="1130.60" y="483.86" width="4.50" height="1.60" fill="#555"/>
<rect x="1128.60" y="474.30" width="6.50" height="1.80" fill="#3a3633"/>
<g font-family='"Liberation Sans", Arial, Helvetica, sans-serif' fill="#0d0d0d">
<text x="202.03" y="28.90" font-size="29.50" text-anchor="start">Control</text>
<text x="735.46" y="29.10" font-size="29.50" text-anchor="start" textLength="52.43" lengthAdjust="spacingAndGlyphs">Au-I</text>
<text x="1274.16" y="28.70" font-size="29.50" text-anchor="start" textLength="61.10" lengthAdjust="spacingAndGlyphs">Au-II</text>
<text x="1499.26" y="24.90" font-size="29.50" text-anchor="start">Time, h</text>
<text x="1530.55" y="225.80" font-size="29.50" text-anchor="start" textLength="32.24" lengthAdjust="spacingAndGlyphs">24</text>
<text x="1531.25" y="588.80" font-size="29.50" text-anchor="start" textLength="32.27" lengthAdjust="spacingAndGlyphs">72</text>
<text x="111.64" y="79.80" font-size="29.50" text-anchor="start">DNA content profile</text>
<text x="128.46" y="366.70" font-size="29.50" text-anchor="start" textLength="241.91" lengthAdjust="spacingAndGlyphs">DNA content index</text>
<text x="75.55" y="330.30" font-size="29.00" text-anchor="start">0</text>
<text x="108.85" y="330.30" font-size="29.00" text-anchor="start">1</text>
<text x="142.87" y="330.30" font-size="29.00" text-anchor="start">2</text>
<text x="176.60" y="330.30" font-size="29.00" text-anchor="start">3</text>
<text x="210.26" y="330.30" font-size="29.00" text-anchor="start">4</text>
<text x="243.85" y="330.30" font-size="29.00" text-anchor="start">5</text>
<text x="277.44" y="330.30" font-size="29.00" text-anchor="start">6</text>
<text x="311.17" y="330.30" font-size="29.00" text-anchor="start">7</text>
<text x="344.76" y="330.30" font-size="29.00" text-anchor="start">8</text>
<text x="378.49" y="330.30" font-size="29.00" text-anchor="start">9</text>
<text x="404.00" y="330.30" font-size="29.00" text-anchor="start" textLength="29.59" lengthAdjust="spacingAndGlyphs">10</text>
<text x="59.80" y="296.50" font-size="20.00" text-anchor="start">0</text>
<text x="48.60" y="277.58" font-size="20.00" text-anchor="start">10</text>
<text x="48.60" y="258.66" font-size="20.00" text-anchor="start">20</text>
<text x="48.60" y="239.74" font-size="20.00" text-anchor="start">30</text>
<text x="48.60" y="220.82" font-size="20.00" text-anchor="start">40</text>
<text x="48.60" y="201.90" font-size="20.00" text-anchor="start">50</text>
<text x="48.60" y="182.98" font-size="20.00" text-anchor="start">60</text>
<text x="48.60" y="164.06" font-size="20.00" text-anchor="start">70</text>
<text x="48.60" y="145.14" font-size="20.00" text-anchor="start">80</text>
<text x="48.60" y="126.22" font-size="20.00" text-anchor="start">90</text>
<text x="37.50" y="107.30" font-size="20.00" text-anchor="start">100</text>
<text transform="translate(24.41,238.07) rotate(-90)" x="0" y="0" font-size="29.0" textLength="78.32" lengthAdjust="spacingAndGlyphs">Count</text>
<text x="303.72" y="120.50" font-size="19.60" text-anchor="start" textLength="106.90" lengthAdjust="spacingAndGlyphs">G0/G1 36.0</text>
<text x="350.97" y="145.60" font-size="19.60" text-anchor="start" textLength="59.78" lengthAdjust="spacingAndGlyphs">S 25.3</text>
<text x="314.27" y="170.20" font-size="19.60" text-anchor="start" textLength="96.55" lengthAdjust="spacingAndGlyphs">G2/M 22.7</text>
<text x="599.55" y="79.50" font-size="29.50" text-anchor="start">DNA content profile</text>
<text x="640.47" y="363.70" font-size="29.50" text-anchor="start" textLength="241.10" lengthAdjust="spacingAndGlyphs">DNA content index</text>
<text x="587.35" y="327.30" font-size="29.00" text-anchor="start">0</text>
<text x="620.65" y="327.30" font-size="29.00" text-anchor="start">1</text>
<text x="654.67" y="327.30" font-size="29.00" text-anchor="start">2</text>
<text x="688.40" y="327.30" font-size="29.00" text-anchor="start">3</text>
<text x="722.06" y="327.30" font-size="29.00" text-anchor="start">4</text>
<text x="755.65" y="327.30" font-size="29.00" text-anchor="start">5</text>
<text x="789.24" y="327.30" font-size="29.00" text-anchor="start">6</text>
<text x="822.97" y="327.30" font-size="29.00" text-anchor="start">7</text>
<text x="856.56" y="327.30" font-size="29.00" text-anchor="start">8</text>
<text x="890.29" y="327.30" font-size="29.00" text-anchor="start">9</text>
<text x="915.81" y="327.30" font-size="29.00" text-anchor="start" textLength="29.59" lengthAdjust="spacingAndGlyphs">10</text>
<text x="573.50" y="296.50" font-size="20.00" text-anchor="start">0</text>
<text x="562.30" y="277.58" font-size="20.00" text-anchor="start">10</text>
<text x="562.30" y="258.66" font-size="20.00" text-anchor="start">20</text>
<text x="562.30" y="239.74" font-size="20.00" text-anchor="start">30</text>
<text x="562.30" y="220.82" font-size="20.00" text-anchor="start">40</text>
<text x="562.30" y="201.90" font-size="20.00" text-anchor="start">50</text>
<text x="562.30" y="182.98" font-size="20.00" text-anchor="start">60</text>
<text x="562.30" y="164.06" font-size="20.00" text-anchor="start">70</text>
<text x="562.30" y="145.14" font-size="20.00" text-anchor="start">80</text>
<text x="562.30" y="126.22" font-size="20.00" text-anchor="start">90</text>
<text x="551.20" y="107.30" font-size="20.00" text-anchor="start">100</text>
<text transform="translate(522.11,238.37) rotate(-90)" x="0" y="0" font-size="29.0" textLength="78.62" lengthAdjust="spacingAndGlyphs">Count</text>
<text x="818.42" y="120.50" font-size="19.60" text-anchor="start" textLength="106.90" lengthAdjust="spacingAndGlyphs">G0/G1 39.2</text>
<text x="865.67" y="145.60" font-size="19.60" text-anchor="start" textLength="59.78" lengthAdjust="spacingAndGlyphs">S 27.2</text>
<text x="828.97" y="170.20" font-size="19.60" text-anchor="start" textLength="96.55" lengthAdjust="spacingAndGlyphs">G2/M 19.7</text>
<text x="1161.74" y="79.70" font-size="29.50" text-anchor="start">DNA content profile</text>
<text x="1182.86" y="363.70" font-size="29.50" text-anchor="start" textLength="242.11" lengthAdjust="spacingAndGlyphs">DNA content index</text>
<text x="1129.45" y="330.30" font-size="29.00" text-anchor="start">0</text>
<text x="1162.75" y="330.30" font-size="29.00" text-anchor="start">1</text>
<text x="1196.77" y="330.30" font-size="29.00" text-anchor="start">2</text>
<text x="1230.51" y="330.30" font-size="29.00" text-anchor="start">3</text>
<text x="1264.16" y="330.30" font-size="29.00" text-anchor="start">4</text>
<text x="1297.75" y="330.30" font-size="29.00" text-anchor="start">5</text>
<text x="1331.34" y="330.30" font-size="29.00" text-anchor="start">6</text>
<text x="1365.07" y="330.30" font-size="29.00" text-anchor="start">7</text>
<text x="1398.66" y="330.30" font-size="29.00" text-anchor="start">8</text>
<text x="1432.39" y="330.30" font-size="29.00" text-anchor="start">9</text>
<text x="1457.90" y="330.30" font-size="29.00" text-anchor="start" textLength="29.59" lengthAdjust="spacingAndGlyphs">10</text>
<text x="1113.50" y="296.50" font-size="20.00" text-anchor="start">0</text>
<text x="1102.30" y="277.58" font-size="20.00" text-anchor="start">10</text>
<text x="1102.30" y="258.66" font-size="20.00" text-anchor="start">20</text>
<text x="1102.30" y="239.74" font-size="20.00" text-anchor="start">30</text>
<text x="1102.30" y="220.82" font-size="20.00" text-anchor="start">40</text>
<text x="1102.30" y="201.90" font-size="20.00" text-anchor="start">50</text>
<text x="1102.30" y="182.98" font-size="20.00" text-anchor="start">60</text>
<text x="1102.30" y="164.06" font-size="20.00" text-anchor="start">70</text>
<text x="1102.30" y="145.14" font-size="20.00" text-anchor="start">80</text>
<text x="1102.30" y="126.22" font-size="20.00" text-anchor="start">90</text>
<text x="1091.20" y="107.30" font-size="20.00" text-anchor="start">100</text>
<text transform="translate(1071.11,239.06) rotate(-90)" x="0" y="0" font-size="29.0" textLength="77.91" lengthAdjust="spacingAndGlyphs">Count</text>
<text x="1363.72" y="120.50" font-size="19.60" text-anchor="start" textLength="106.90" lengthAdjust="spacingAndGlyphs">G0/G1 43.6</text>
<text x="1410.97" y="145.60" font-size="19.60" text-anchor="start" textLength="59.78" lengthAdjust="spacingAndGlyphs">S 22.7</text>
<text x="1374.27" y="170.20" font-size="19.60" text-anchor="start" textLength="96.55" lengthAdjust="spacingAndGlyphs">G2/M 22.7</text>
<text x="123.05" y="453.30" font-size="29.50" text-anchor="start" textLength="253.20" lengthAdjust="spacingAndGlyphs">DNA content profile</text>
<text x="129.16" y="740.40" font-size="29.50" text-anchor="start" textLength="241.91" lengthAdjust="spacingAndGlyphs">DNA content index</text>
<text x="75.55" y="705.10" font-size="29.00" text-anchor="start">0</text>
<text x="108.85" y="705.10" font-size="29.00" text-anchor="start">1</text>
<text x="142.87" y="705.10" font-size="29.00" text-anchor="start">2</text>
<text x="176.60" y="705.10" font-size="29.00" text-anchor="start">3</text>
<text x="210.26" y="705.10" font-size="29.00" text-anchor="start">4</text>
<text x="243.85" y="705.10" font-size="29.00" text-anchor="start">5</text>
<text x="277.44" y="705.10" font-size="29.00" text-anchor="start">6</text>
<text x="311.17" y="705.10" font-size="29.00" text-anchor="start">7</text>
<text x="344.76" y="705.10" font-size="29.00" text-anchor="start">8</text>
<text x="378.49" y="705.10" font-size="29.00" text-anchor="start">9</text>
<text x="404.00" y="705.10" font-size="29.00" text-anchor="start" textLength="29.59" lengthAdjust="spacingAndGlyphs">10</text>
<text x="58.50" y="671.70" font-size="20.00" text-anchor="start">0</text>
<text x="47.30" y="652.78" font-size="20.00" text-anchor="start">10</text>
<text x="47.30" y="633.86" font-size="20.00" text-anchor="start">20</text>
<text x="47.30" y="614.94" font-size="20.00" text-anchor="start">30</text>
<text x="47.30" y="596.02" font-size="20.00" text-anchor="start">40</text>
<text x="47.30" y="577.10" font-size="20.00" text-anchor="start">50</text>
<text x="47.30" y="558.18" font-size="20.00" text-anchor="start">60</text>
<text x="47.30" y="539.26" font-size="20.00" text-anchor="start">70</text>
<text x="47.30" y="520.34" font-size="20.00" text-anchor="start">80</text>
<text x="47.30" y="501.42" font-size="20.00" text-anchor="start">90</text>
<text x="36.20" y="482.50" font-size="20.00" text-anchor="start">100</text>
<text transform="translate(24.41,615.36) rotate(-90)" x="0" y="0" font-size="29.0" textLength="77.91" lengthAdjust="spacingAndGlyphs">Count</text>
<text x="309.22" y="498.60" font-size="19.60" text-anchor="start" textLength="106.90" lengthAdjust="spacingAndGlyphs">G0/G1 47.8</text>
<text x="356.47" y="523.60" font-size="19.60" text-anchor="start" textLength="59.78" lengthAdjust="spacingAndGlyphs">S 22.8</text>
<text x="319.77" y="548.20" font-size="19.60" text-anchor="start" textLength="96.55" lengthAdjust="spacingAndGlyphs">G2/M 21.2</text>
<text x="635.15" y="453.30" font-size="29.50" text-anchor="start" textLength="253.20" lengthAdjust="spacingAndGlyphs">DNA content profile</text>
<text x="640.57" y="740.40" font-size="29.50" text-anchor="start" textLength="241.71" lengthAdjust="spacingAndGlyphs">DNA content index</text>
<text x="587.35" y="704.50" font-size="29.00" text-anchor="start">0</text>
<text x="620.65" y="704.50" font-size="29.00" text-anchor="start">1</text>
<text x="654.67" y="704.50" font-size="29.00" text-anchor="start">2</text>
<text x="688.40" y="704.50" font-size="29.00" text-anchor="start">3</text>
<text x="722.06" y="704.50" font-size="29.00" text-anchor="start">4</text>
<text x="755.65" y="704.50" font-size="29.00" text-anchor="start">5</text>
<text x="789.24" y="704.50" font-size="29.00" text-anchor="start">6</text>
<text x="822.97" y="704.50" font-size="29.00" text-anchor="start">7</text>
<text x="856.56" y="704.50" font-size="29.00" text-anchor="start">8</text>
<text x="890.29" y="704.50" font-size="29.00" text-anchor="start">9</text>
<text x="915.81" y="704.50" font-size="29.00" text-anchor="start" textLength="29.59" lengthAdjust="spacingAndGlyphs">10</text>
<text x="571.50" y="671.70" font-size="20.00" text-anchor="start">0</text>
<text x="560.30" y="652.78" font-size="20.00" text-anchor="start">10</text>
<text x="560.30" y="633.86" font-size="20.00" text-anchor="start">20</text>
<text x="560.30" y="614.94" font-size="20.00" text-anchor="start">30</text>
<text x="560.30" y="596.02" font-size="20.00" text-anchor="start">40</text>
<text x="560.30" y="577.10" font-size="20.00" text-anchor="start">50</text>
<text x="560.30" y="558.18" font-size="20.00" text-anchor="start">60</text>
<text x="560.30" y="539.26" font-size="20.00" text-anchor="start">70</text>
<text x="560.30" y="520.34" font-size="20.00" text-anchor="start">80</text>
<text x="560.30" y="501.42" font-size="20.00" text-anchor="start">90</text>
<text x="549.20" y="482.50" font-size="20.00" text-anchor="start">100</text>
<text transform="translate(522.11,612.06) rotate(-90)" x="0" y="0" font-size="29.0" textLength="77.91" lengthAdjust="spacingAndGlyphs">Count</text>
<text x="819.22" y="493.50" font-size="19.60" text-anchor="start" textLength="106.90" lengthAdjust="spacingAndGlyphs">G0/G1 50.5</text>
<text x="866.47" y="518.60" font-size="19.60" text-anchor="start" textLength="59.78" lengthAdjust="spacingAndGlyphs">S 24.3</text>
<text x="829.77" y="543.70" font-size="19.60" text-anchor="start" textLength="96.55" lengthAdjust="spacingAndGlyphs">G2/M 19.5</text>
<text x="1177.24" y="453.30" font-size="29.50" text-anchor="start">DNA content profile</text>
<text x="1183.97" y="740.40" font-size="29.50" text-anchor="start" textLength="241.71" lengthAdjust="spacingAndGlyphs">DNA content index</text>
<text x="1129.45" y="704.50" font-size="29.00" text-anchor="start">0</text>
<text x="1162.75" y="704.50" font-size="29.00" text-anchor="start">1</text>
<text x="1196.77" y="704.50" font-size="29.00" text-anchor="start">2</text>
<text x="1230.51" y="704.50" font-size="29.00" text-anchor="start">3</text>
<text x="1264.16" y="704.50" font-size="29.00" text-anchor="start">4</text>
<text x="1297.75" y="704.50" font-size="29.00" text-anchor="start">5</text>
<text x="1331.34" y="704.50" font-size="29.00" text-anchor="start">6</text>
<text x="1365.07" y="704.50" font-size="29.00" text-anchor="start">7</text>
<text x="1398.66" y="704.50" font-size="29.00" text-anchor="start">8</text>
<text x="1432.39" y="704.50" font-size="29.00" text-anchor="start">9</text>
<text x="1457.90" y="704.50" font-size="29.00" text-anchor="start" textLength="29.59" lengthAdjust="spacingAndGlyphs">10</text>
<text x="1112.50" y="671.70" font-size="20.00" text-anchor="start">0</text>
<text x="1101.30" y="652.78" font-size="20.00" text-anchor="start">10</text>
<text x="1101.30" y="633.86" font-size="20.00" text-anchor="start">20</text>
<text x="1101.30" y="614.94" font-size="20.00" text-anchor="start">30</text>
<text x="1101.30" y="596.02" font-size="20.00" text-anchor="start">40</text>
<text x="1101.30" y="577.10" font-size="20.00" text-anchor="start">50</text>
<text x="1101.30" y="558.18" font-size="20.00" text-anchor="start">60</text>
<text x="1101.30" y="539.26" font-size="20.00" text-anchor="start">70</text>
<text x="1101.30" y="520.34" font-size="20.00" text-anchor="start">80</text>
<text x="1101.30" y="501.42" font-size="20.00" text-anchor="start">90</text>
<text x="1090.20" y="482.50" font-size="20.00" text-anchor="start">100</text>
<text transform="translate(1071.11,616.03) rotate(-90)" x="0" y="0" font-size="29.0" textLength="76.58" lengthAdjust="spacingAndGlyphs">Count</text>
<text x="1361.22" y="493.50" font-size="19.60" text-anchor="start" textLength="106.90" lengthAdjust="spacingAndGlyphs">G0/G1 52.1</text>
<text x="1408.47" y="518.60" font-size="19.60" text-anchor="start" textLength="59.78" lengthAdjust="spacingAndGlyphs">S 20.5</text>
<text x="1371.77" y="543.70" font-size="19.60" text-anchor="start" textLength="96.55" lengthAdjust="spacingAndGlyphs">G2/M 22.5</text>
</g>
</svg>
</body></html>
